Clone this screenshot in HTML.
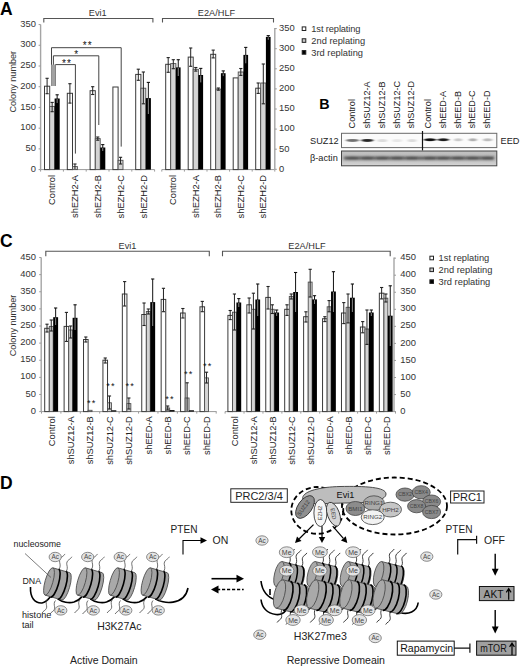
<!DOCTYPE html>
<html><head><meta charset="utf-8"><style>
html,body{margin:0;padding:0;background:#fff;}
svg{display:block;font-family:"Liberation Sans", sans-serif;}
</style></head><body>
<svg width="520" height="668" viewBox="0 0 520 668">
<rect width="520" height="668" fill="#fff"/>
<text x="0.00" y="15.30" font-size="17.5" text-anchor="start" font-weight="bold" fill="#000">A</text>
<line x1="40.60" y1="24.50" x2="40.60" y2="169.60" stroke="#a5a5a5" stroke-width="1.4"/>
<line x1="38.60" y1="169.60" x2="40.60" y2="169.60" stroke="#9a9a9a" stroke-width="1"/>
<text x="36.00" y="171.70" font-size="9.4" text-anchor="end" font-weight="normal" fill="#333">0</text>
<line x1="38.60" y1="148.88" x2="40.60" y2="148.88" stroke="#9a9a9a" stroke-width="1"/>
<text x="36.00" y="150.98" font-size="9.4" text-anchor="end" font-weight="normal" fill="#333">50</text>
<line x1="38.60" y1="128.16" x2="40.60" y2="128.16" stroke="#9a9a9a" stroke-width="1"/>
<text x="36.00" y="130.26" font-size="9.4" text-anchor="end" font-weight="normal" fill="#333">100</text>
<line x1="38.60" y1="107.44" x2="40.60" y2="107.44" stroke="#9a9a9a" stroke-width="1"/>
<text x="36.00" y="109.54" font-size="9.4" text-anchor="end" font-weight="normal" fill="#333">150</text>
<line x1="38.60" y1="86.72" x2="40.60" y2="86.72" stroke="#9a9a9a" stroke-width="1"/>
<text x="36.00" y="88.82" font-size="9.4" text-anchor="end" font-weight="normal" fill="#333">200</text>
<line x1="38.60" y1="66.00" x2="40.60" y2="66.00" stroke="#9a9a9a" stroke-width="1"/>
<text x="36.00" y="68.10" font-size="9.4" text-anchor="end" font-weight="normal" fill="#333">250</text>
<line x1="38.60" y1="45.28" x2="40.60" y2="45.28" stroke="#9a9a9a" stroke-width="1"/>
<text x="36.00" y="47.38" font-size="9.4" text-anchor="end" font-weight="normal" fill="#333">300</text>
<line x1="38.60" y1="24.56" x2="40.60" y2="24.56" stroke="#9a9a9a" stroke-width="1"/>
<text x="36.00" y="26.66" font-size="9.4" text-anchor="end" font-weight="normal" fill="#333">350</text>
<text x="15.60" y="81.70" font-size="9.1" text-anchor="middle" font-weight="normal" fill="#333" transform="rotate(-90 15.6 81.7)">Colony number</text>
<line x1="274.80" y1="28.00" x2="274.80" y2="169.30" stroke="#a5a5a5" stroke-width="1.4"/>
<line x1="274.80" y1="169.30" x2="276.80" y2="169.30" stroke="#9a9a9a" stroke-width="1"/>
<text x="279.00" y="171.60" font-size="9.4" text-anchor="start" font-weight="normal" fill="#333">0</text>
<line x1="274.80" y1="149.20" x2="276.80" y2="149.20" stroke="#9a9a9a" stroke-width="1"/>
<text x="279.00" y="151.50" font-size="9.4" text-anchor="start" font-weight="normal" fill="#333">50</text>
<line x1="274.80" y1="129.10" x2="276.80" y2="129.10" stroke="#9a9a9a" stroke-width="1"/>
<text x="279.00" y="131.40" font-size="9.4" text-anchor="start" font-weight="normal" fill="#333">100</text>
<line x1="274.80" y1="109.00" x2="276.80" y2="109.00" stroke="#9a9a9a" stroke-width="1"/>
<text x="279.00" y="111.30" font-size="9.4" text-anchor="start" font-weight="normal" fill="#333">150</text>
<line x1="274.80" y1="88.90" x2="276.80" y2="88.90" stroke="#9a9a9a" stroke-width="1"/>
<text x="279.00" y="91.20" font-size="9.4" text-anchor="start" font-weight="normal" fill="#333">200</text>
<line x1="274.80" y1="68.80" x2="276.80" y2="68.80" stroke="#9a9a9a" stroke-width="1"/>
<text x="279.00" y="71.10" font-size="9.4" text-anchor="start" font-weight="normal" fill="#333">250</text>
<line x1="274.80" y1="48.70" x2="276.80" y2="48.70" stroke="#9a9a9a" stroke-width="1"/>
<text x="279.00" y="51.00" font-size="9.4" text-anchor="start" font-weight="normal" fill="#333">300</text>
<line x1="274.80" y1="28.60" x2="276.80" y2="28.60" stroke="#9a9a9a" stroke-width="1"/>
<text x="279.00" y="30.90" font-size="9.4" text-anchor="start" font-weight="normal" fill="#333">350</text>
<line x1="40.60" y1="169.60" x2="154.60" y2="169.60" stroke="#9a9a9a" stroke-width="1"/>
<line x1="161.80" y1="169.60" x2="274.80" y2="169.60" stroke="#9a9a9a" stroke-width="1"/>
<line x1="40.60" y1="169.60" x2="40.60" y2="171.60" stroke="#9a9a9a" stroke-width="1"/>
<line x1="161.80" y1="169.60" x2="161.80" y2="171.60" stroke="#9a9a9a" stroke-width="1"/>
<line x1="63.40" y1="169.60" x2="63.40" y2="171.60" stroke="#9a9a9a" stroke-width="1"/>
<line x1="184.40" y1="169.60" x2="184.40" y2="171.60" stroke="#9a9a9a" stroke-width="1"/>
<line x1="86.20" y1="169.60" x2="86.20" y2="171.60" stroke="#9a9a9a" stroke-width="1"/>
<line x1="207.00" y1="169.60" x2="207.00" y2="171.60" stroke="#9a9a9a" stroke-width="1"/>
<line x1="109.00" y1="169.60" x2="109.00" y2="171.60" stroke="#9a9a9a" stroke-width="1"/>
<line x1="229.60" y1="169.60" x2="229.60" y2="171.60" stroke="#9a9a9a" stroke-width="1"/>
<line x1="131.80" y1="169.60" x2="131.80" y2="171.60" stroke="#9a9a9a" stroke-width="1"/>
<line x1="252.20" y1="169.60" x2="252.20" y2="171.60" stroke="#9a9a9a" stroke-width="1"/>
<line x1="154.60" y1="169.60" x2="154.60" y2="171.60" stroke="#9a9a9a" stroke-width="1"/>
<line x1="274.80" y1="169.60" x2="274.80" y2="171.60" stroke="#9a9a9a" stroke-width="1"/>
<path d="M43.8 22.5 V18.5 H152.9 V22.5" fill="none" stroke="#555" stroke-width="1.1"/>
<text x="97.70" y="16.00" font-size="9.2" text-anchor="middle" font-weight="normal" fill="#333">Evi1</text>
<path d="M162.5 22.5 V18.5 H273.5 V22.5" fill="none" stroke="#555" stroke-width="1.1"/>
<text x="216.50" y="16.00" font-size="9.2" text-anchor="middle" font-weight="normal" fill="#333">E2A/HLF</text>
<rect x="44.50" y="86.20" width="5.20" height="83.40" fill="#fff" stroke="#3a3a3a" stroke-width="1"/>
<rect x="49.70" y="106.40" width="4.90" height="63.20" fill="#d4d4d4" stroke="#505050" stroke-width="0.9"/>
<rect x="54.60" y="98.50" width="5.10" height="71.10" fill="#000" stroke="none" stroke-width="1"/>
<line x1="47.10" y1="78.30" x2="47.10" y2="93.70" stroke="#222" stroke-width="1"/>
<line x1="45.50" y1="78.30" x2="48.70" y2="78.30" stroke="#222" stroke-width="1.1"/>
<line x1="45.50" y1="93.70" x2="48.70" y2="93.70" stroke="#222" stroke-width="1.1"/>
<line x1="52.15" y1="102.40" x2="52.15" y2="111.70" stroke="#222" stroke-width="1"/>
<line x1="50.55" y1="102.40" x2="53.75" y2="102.40" stroke="#222" stroke-width="1.1"/>
<line x1="50.55" y1="111.70" x2="53.75" y2="111.70" stroke="#222" stroke-width="1.1"/>
<line x1="57.15" y1="94.80" x2="57.15" y2="99.00" stroke="#111" stroke-width="1"/>
<line x1="57.15" y1="99.00" x2="57.15" y2="103.00" stroke="#8a8a8a" stroke-width="1"/>
<line x1="55.55" y1="94.80" x2="58.75" y2="94.80" stroke="#111" stroke-width="1.1"/>
<rect x="67.30" y="93.30" width="5.20" height="76.30" fill="#fff" stroke="#3a3a3a" stroke-width="1"/>
<rect x="72.50" y="166.60" width="4.90" height="3.00" fill="#d4d4d4" stroke="#505050" stroke-width="0.9"/>
<line x1="69.90" y1="83.70" x2="69.90" y2="103.10" stroke="#222" stroke-width="1"/>
<line x1="68.30" y1="83.70" x2="71.50" y2="83.70" stroke="#222" stroke-width="1.1"/>
<line x1="68.30" y1="103.10" x2="71.50" y2="103.10" stroke="#222" stroke-width="1.1"/>
<line x1="74.95" y1="164.00" x2="74.95" y2="169.00" stroke="#222" stroke-width="1"/>
<line x1="73.35" y1="164.00" x2="76.55" y2="164.00" stroke="#222" stroke-width="1.1"/>
<rect x="90.10" y="90.70" width="5.20" height="78.90" fill="#fff" stroke="#3a3a3a" stroke-width="1"/>
<rect x="95.30" y="138.60" width="4.90" height="31.00" fill="#d4d4d4" stroke="#505050" stroke-width="0.9"/>
<rect x="100.20" y="147.50" width="5.10" height="22.10" fill="#000" stroke="none" stroke-width="1"/>
<line x1="92.70" y1="86.70" x2="92.70" y2="94.50" stroke="#222" stroke-width="1"/>
<line x1="91.10" y1="86.70" x2="94.30" y2="86.70" stroke="#222" stroke-width="1.1"/>
<line x1="91.10" y1="94.50" x2="94.30" y2="94.50" stroke="#222" stroke-width="1.1"/>
<line x1="97.75" y1="137.00" x2="97.75" y2="140.20" stroke="#222" stroke-width="1"/>
<line x1="96.15" y1="137.00" x2="99.35" y2="137.00" stroke="#222" stroke-width="1.1"/>
<line x1="96.15" y1="140.20" x2="99.35" y2="140.20" stroke="#222" stroke-width="1.1"/>
<line x1="102.75" y1="144.60" x2="102.75" y2="148.00" stroke="#111" stroke-width="1"/>
<line x1="102.75" y1="148.00" x2="102.75" y2="151.00" stroke="#8a8a8a" stroke-width="1"/>
<line x1="101.15" y1="144.60" x2="104.35" y2="144.60" stroke="#111" stroke-width="1.1"/>
<rect x="112.90" y="87.00" width="5.20" height="82.60" fill="#fff" stroke="#3a3a3a" stroke-width="1"/>
<rect x="118.10" y="160.30" width="4.90" height="9.30" fill="#d4d4d4" stroke="#505050" stroke-width="0.9"/>
<line x1="120.55" y1="157.30" x2="120.55" y2="164.00" stroke="#222" stroke-width="1"/>
<line x1="118.95" y1="157.30" x2="122.15" y2="157.30" stroke="#222" stroke-width="1.1"/>
<line x1="118.95" y1="164.00" x2="122.15" y2="164.00" stroke="#222" stroke-width="1.1"/>
<rect x="135.70" y="74.40" width="5.20" height="95.20" fill="#fff" stroke="#3a3a3a" stroke-width="1"/>
<rect x="140.90" y="88.20" width="4.90" height="81.40" fill="#d4d4d4" stroke="#505050" stroke-width="0.9"/>
<rect x="145.80" y="98.10" width="5.10" height="71.50" fill="#000" stroke="none" stroke-width="1"/>
<line x1="138.30" y1="69.20" x2="138.30" y2="80.30" stroke="#222" stroke-width="1"/>
<line x1="136.70" y1="69.20" x2="139.90" y2="69.20" stroke="#222" stroke-width="1.1"/>
<line x1="136.70" y1="80.30" x2="139.90" y2="80.30" stroke="#222" stroke-width="1.1"/>
<line x1="143.35" y1="72.00" x2="143.35" y2="103.80" stroke="#222" stroke-width="1"/>
<line x1="141.75" y1="72.00" x2="144.95" y2="72.00" stroke="#222" stroke-width="1.1"/>
<line x1="141.75" y1="103.80" x2="144.95" y2="103.80" stroke="#222" stroke-width="1.1"/>
<line x1="148.35" y1="82.40" x2="148.35" y2="98.60" stroke="#111" stroke-width="1"/>
<line x1="148.35" y1="98.60" x2="148.35" y2="114.00" stroke="#8a8a8a" stroke-width="1"/>
<line x1="146.75" y1="82.40" x2="149.95" y2="82.40" stroke="#111" stroke-width="1.1"/>
<rect x="165.70" y="64.30" width="5.00" height="105.30" fill="#fff" stroke="#3a3a3a" stroke-width="1"/>
<rect x="170.70" y="63.60" width="5.20" height="106.00" fill="#d4d4d4" stroke="#505050" stroke-width="0.9"/>
<rect x="175.90" y="67.40" width="4.70" height="102.20" fill="#000" stroke="none" stroke-width="1"/>
<line x1="168.20" y1="57.60" x2="168.20" y2="72.30" stroke="#222" stroke-width="1"/>
<line x1="166.60" y1="57.60" x2="169.80" y2="57.60" stroke="#222" stroke-width="1.1"/>
<line x1="166.60" y1="72.30" x2="169.80" y2="72.30" stroke="#222" stroke-width="1.1"/>
<line x1="173.30" y1="59.70" x2="173.30" y2="68.70" stroke="#222" stroke-width="1"/>
<line x1="171.70" y1="59.70" x2="174.90" y2="59.70" stroke="#222" stroke-width="1.1"/>
<line x1="171.70" y1="68.70" x2="174.90" y2="68.70" stroke="#222" stroke-width="1.1"/>
<line x1="178.25" y1="59.70" x2="178.25" y2="67.90" stroke="#111" stroke-width="1"/>
<line x1="178.25" y1="67.90" x2="178.25" y2="76.00" stroke="#8a8a8a" stroke-width="1"/>
<line x1="176.65" y1="59.70" x2="179.85" y2="59.70" stroke="#111" stroke-width="1.1"/>
<rect x="188.20" y="57.10" width="5.00" height="112.50" fill="#fff" stroke="#3a3a3a" stroke-width="1"/>
<rect x="193.20" y="69.30" width="5.20" height="100.30" fill="#d4d4d4" stroke="#505050" stroke-width="0.9"/>
<rect x="198.40" y="75.00" width="4.70" height="94.60" fill="#000" stroke="none" stroke-width="1"/>
<line x1="190.70" y1="48.00" x2="190.70" y2="66.30" stroke="#222" stroke-width="1"/>
<line x1="189.10" y1="48.00" x2="192.30" y2="48.00" stroke="#222" stroke-width="1.1"/>
<line x1="189.10" y1="66.30" x2="192.30" y2="66.30" stroke="#222" stroke-width="1.1"/>
<line x1="195.80" y1="67.50" x2="195.80" y2="71.10" stroke="#222" stroke-width="1"/>
<line x1="194.20" y1="67.50" x2="197.40" y2="67.50" stroke="#222" stroke-width="1.1"/>
<line x1="194.20" y1="71.10" x2="197.40" y2="71.10" stroke="#222" stroke-width="1.1"/>
<line x1="200.75" y1="68.40" x2="200.75" y2="75.50" stroke="#111" stroke-width="1"/>
<line x1="200.75" y1="75.50" x2="200.75" y2="82.40" stroke="#8a8a8a" stroke-width="1"/>
<line x1="199.15" y1="68.40" x2="202.35" y2="68.40" stroke="#111" stroke-width="1.1"/>
<rect x="210.70" y="54.30" width="5.00" height="115.30" fill="#fff" stroke="#3a3a3a" stroke-width="1"/>
<rect x="215.70" y="89.10" width="5.20" height="80.50" fill="#d4d4d4" stroke="#505050" stroke-width="0.9"/>
<rect x="220.90" y="73.20" width="4.70" height="96.40" fill="#000" stroke="none" stroke-width="1"/>
<line x1="213.20" y1="50.10" x2="213.20" y2="57.90" stroke="#222" stroke-width="1"/>
<line x1="211.60" y1="50.10" x2="214.80" y2="50.10" stroke="#222" stroke-width="1.1"/>
<line x1="211.60" y1="57.90" x2="214.80" y2="57.90" stroke="#222" stroke-width="1.1"/>
<line x1="218.30" y1="88.00" x2="218.30" y2="90.20" stroke="#222" stroke-width="1"/>
<line x1="216.70" y1="88.00" x2="219.90" y2="88.00" stroke="#222" stroke-width="1.1"/>
<line x1="216.70" y1="90.20" x2="219.90" y2="90.20" stroke="#222" stroke-width="1.1"/>
<line x1="223.25" y1="70.90" x2="223.25" y2="73.70" stroke="#111" stroke-width="1"/>
<line x1="223.25" y1="73.70" x2="223.25" y2="76.10" stroke="#8a8a8a" stroke-width="1"/>
<line x1="221.65" y1="70.90" x2="224.85" y2="70.90" stroke="#111" stroke-width="1.1"/>
<rect x="233.20" y="77.90" width="5.00" height="91.70" fill="#fff" stroke="#3a3a3a" stroke-width="1"/>
<rect x="238.20" y="72.00" width="5.20" height="97.60" fill="#d4d4d4" stroke="#505050" stroke-width="0.9"/>
<rect x="243.40" y="54.90" width="4.70" height="114.70" fill="#000" stroke="none" stroke-width="1"/>
<line x1="240.80" y1="68.50" x2="240.80" y2="75.40" stroke="#222" stroke-width="1"/>
<line x1="239.20" y1="68.50" x2="242.40" y2="68.50" stroke="#222" stroke-width="1.1"/>
<line x1="239.20" y1="75.40" x2="242.40" y2="75.40" stroke="#222" stroke-width="1.1"/>
<line x1="245.75" y1="47.40" x2="245.75" y2="55.40" stroke="#111" stroke-width="1"/>
<line x1="245.75" y1="55.40" x2="245.75" y2="63.30" stroke="#8a8a8a" stroke-width="1"/>
<line x1="244.15" y1="47.40" x2="247.35" y2="47.40" stroke="#111" stroke-width="1.1"/>
<rect x="255.70" y="88.20" width="5.00" height="81.40" fill="#fff" stroke="#3a3a3a" stroke-width="1"/>
<rect x="260.70" y="83.00" width="5.20" height="86.60" fill="#d4d4d4" stroke="#505050" stroke-width="0.9"/>
<rect x="265.90" y="36.90" width="4.70" height="132.70" fill="#000" stroke="none" stroke-width="1"/>
<line x1="258.20" y1="83.00" x2="258.20" y2="93.40" stroke="#222" stroke-width="1"/>
<line x1="256.60" y1="83.00" x2="259.80" y2="83.00" stroke="#222" stroke-width="1.1"/>
<line x1="256.60" y1="93.40" x2="259.80" y2="93.40" stroke="#222" stroke-width="1.1"/>
<line x1="263.30" y1="64.00" x2="263.30" y2="103.80" stroke="#222" stroke-width="1"/>
<line x1="261.70" y1="64.00" x2="264.90" y2="64.00" stroke="#222" stroke-width="1.1"/>
<line x1="261.70" y1="103.80" x2="264.90" y2="103.80" stroke="#222" stroke-width="1.1"/>
<line x1="268.25" y1="35.60" x2="268.25" y2="37.40" stroke="#111" stroke-width="1"/>
<line x1="268.25" y1="37.40" x2="268.25" y2="39.80" stroke="#8a8a8a" stroke-width="1"/>
<line x1="266.65" y1="35.60" x2="269.85" y2="35.60" stroke="#111" stroke-width="1.1"/>
<path d="M51.5 86 V47.7 H121.2 V146.6" fill="none" stroke="#444" stroke-width="1"/>
<path d="M53.4 86 V55.8 H98.8 V125" fill="none" stroke="#444" stroke-width="1"/>
<path d="M55.4 86 V64.6 H75.4 V153.6" fill="none" stroke="#444" stroke-width="1"/>
<rect x="51.20" y="64.60" width="4.40" height="21.40" fill="#a2a2a2" stroke="none" stroke-width="1"/>
<text x="87.80" y="49.20" font-size="10" text-anchor="middle" font-weight="normal" fill="#111" letter-spacing="1.2">**</text>
<text x="76.20" y="57.80" font-size="10" text-anchor="middle" font-weight="normal" fill="#111">*</text>
<text x="67.00" y="67.00" font-size="10" text-anchor="middle" font-weight="normal" fill="#111" letter-spacing="1.2">**</text>
<text x="55.40" y="175.00" font-size="9.3" text-anchor="end" font-weight="normal" fill="#222" transform="rotate(-90 55.4 175)">Control</text>
<text x="78.20" y="175.00" font-size="9.3" text-anchor="end" font-weight="normal" fill="#222" transform="rotate(-90 78.20000000000002 175)">shEZH2-A</text>
<text x="101.00" y="175.00" font-size="9.3" text-anchor="end" font-weight="normal" fill="#222" transform="rotate(-90 101.00000000000001 175)">shEZH2-B</text>
<text x="123.80" y="175.00" font-size="9.3" text-anchor="end" font-weight="normal" fill="#222" transform="rotate(-90 123.80000000000001 175)">shEZH2-C</text>
<text x="146.60" y="175.00" font-size="9.3" text-anchor="end" font-weight="normal" fill="#222" transform="rotate(-90 146.60000000000002 175)">shEZH2-D</text>
<text x="176.15" y="175.00" font-size="9.3" text-anchor="end" font-weight="normal" fill="#222" transform="rotate(-90 176.15 175)">Control</text>
<text x="198.65" y="175.00" font-size="9.3" text-anchor="end" font-weight="normal" fill="#222" transform="rotate(-90 198.65 175)">shEZH2-A</text>
<text x="221.15" y="175.00" font-size="9.3" text-anchor="end" font-weight="normal" fill="#222" transform="rotate(-90 221.15 175)">shEZH2-B</text>
<text x="243.65" y="175.00" font-size="9.3" text-anchor="end" font-weight="normal" fill="#222" transform="rotate(-90 243.65 175)">shEZH2-C</text>
<text x="266.15" y="175.00" font-size="9.3" text-anchor="end" font-weight="normal" fill="#222" transform="rotate(-90 266.15 175)">shEZH2-D</text>
<rect x="302.20" y="26.90" width="3.60" height="3.60" fill="#fff" stroke="#222" stroke-width="1"/>
<text x="311.30" y="31.90" font-size="9.3" text-anchor="start" font-weight="normal" fill="#333" letter-spacing="-0.12">1st replating</text>
<rect x="302.20" y="38.75" width="3.60" height="3.60" fill="#c8c8c8" stroke="#222" stroke-width="1"/>
<text x="311.30" y="43.75" font-size="9.3" text-anchor="start" font-weight="normal" fill="#333">2nd replating</text>
<rect x="302.20" y="50.60" width="3.60" height="3.60" fill="#000" stroke="#222" stroke-width="1"/>
<text x="311.30" y="55.60" font-size="9.3" text-anchor="start" font-weight="normal" fill="#333">3rd replating</text>
<text x="0.00" y="247.20" font-size="17.5" text-anchor="start" font-weight="bold" fill="#000">C</text>
<line x1="41.20" y1="257.50" x2="41.20" y2="411.60" stroke="#a5a5a5" stroke-width="1.4"/>
<line x1="39.20" y1="411.60" x2="41.20" y2="411.60" stroke="#9a9a9a" stroke-width="1"/>
<text x="36.00" y="413.70" font-size="9.4" text-anchor="end" font-weight="normal" fill="#333">0</text>
<line x1="39.20" y1="394.48" x2="41.20" y2="394.48" stroke="#9a9a9a" stroke-width="1"/>
<text x="36.00" y="396.58" font-size="9.4" text-anchor="end" font-weight="normal" fill="#333">50</text>
<line x1="39.20" y1="377.36" x2="41.20" y2="377.36" stroke="#9a9a9a" stroke-width="1"/>
<text x="36.00" y="379.46" font-size="9.4" text-anchor="end" font-weight="normal" fill="#333">100</text>
<line x1="39.20" y1="360.24" x2="41.20" y2="360.24" stroke="#9a9a9a" stroke-width="1"/>
<text x="36.00" y="362.34" font-size="9.4" text-anchor="end" font-weight="normal" fill="#333">150</text>
<line x1="39.20" y1="343.12" x2="41.20" y2="343.12" stroke="#9a9a9a" stroke-width="1"/>
<text x="36.00" y="345.22" font-size="9.4" text-anchor="end" font-weight="normal" fill="#333">200</text>
<line x1="39.20" y1="326.00" x2="41.20" y2="326.00" stroke="#9a9a9a" stroke-width="1"/>
<text x="36.00" y="328.10" font-size="9.4" text-anchor="end" font-weight="normal" fill="#333">250</text>
<line x1="39.20" y1="308.88" x2="41.20" y2="308.88" stroke="#9a9a9a" stroke-width="1"/>
<text x="36.00" y="310.98" font-size="9.4" text-anchor="end" font-weight="normal" fill="#333">300</text>
<line x1="39.20" y1="291.76" x2="41.20" y2="291.76" stroke="#9a9a9a" stroke-width="1"/>
<text x="36.00" y="293.86" font-size="9.4" text-anchor="end" font-weight="normal" fill="#333">350</text>
<line x1="39.20" y1="274.64" x2="41.20" y2="274.64" stroke="#9a9a9a" stroke-width="1"/>
<text x="36.00" y="276.74" font-size="9.4" text-anchor="end" font-weight="normal" fill="#333">400</text>
<line x1="39.20" y1="257.52" x2="41.20" y2="257.52" stroke="#9a9a9a" stroke-width="1"/>
<text x="36.00" y="259.62" font-size="9.4" text-anchor="end" font-weight="normal" fill="#333">450</text>
<text x="16.20" y="325.50" font-size="9.1" text-anchor="middle" font-weight="normal" fill="#333" transform="rotate(-90 16.2 325.5)">Colony number</text>
<line x1="394.00" y1="257.50" x2="394.00" y2="411.60" stroke="#a5a5a5" stroke-width="1.4"/>
<line x1="394.00" y1="411.60" x2="396.00" y2="411.60" stroke="#9a9a9a" stroke-width="1"/>
<text x="400.30" y="413.70" font-size="9.4" text-anchor="start" font-weight="normal" fill="#333">0</text>
<line x1="394.00" y1="394.55" x2="396.00" y2="394.55" stroke="#9a9a9a" stroke-width="1"/>
<text x="400.30" y="396.65" font-size="9.4" text-anchor="start" font-weight="normal" fill="#333">50</text>
<line x1="394.00" y1="377.50" x2="396.00" y2="377.50" stroke="#9a9a9a" stroke-width="1"/>
<text x="400.30" y="379.60" font-size="9.4" text-anchor="start" font-weight="normal" fill="#333">100</text>
<line x1="394.00" y1="360.45" x2="396.00" y2="360.45" stroke="#9a9a9a" stroke-width="1"/>
<text x="400.30" y="362.55" font-size="9.4" text-anchor="start" font-weight="normal" fill="#333">150</text>
<line x1="394.00" y1="343.40" x2="396.00" y2="343.40" stroke="#9a9a9a" stroke-width="1"/>
<text x="400.30" y="345.50" font-size="9.4" text-anchor="start" font-weight="normal" fill="#333">200</text>
<line x1="394.00" y1="326.35" x2="396.00" y2="326.35" stroke="#9a9a9a" stroke-width="1"/>
<text x="400.30" y="328.45" font-size="9.4" text-anchor="start" font-weight="normal" fill="#333">250</text>
<line x1="394.00" y1="309.30" x2="396.00" y2="309.30" stroke="#9a9a9a" stroke-width="1"/>
<text x="400.30" y="311.40" font-size="9.4" text-anchor="start" font-weight="normal" fill="#333">300</text>
<line x1="394.00" y1="292.25" x2="396.00" y2="292.25" stroke="#9a9a9a" stroke-width="1"/>
<text x="400.30" y="294.35" font-size="9.4" text-anchor="start" font-weight="normal" fill="#333">350</text>
<line x1="394.00" y1="275.20" x2="396.00" y2="275.20" stroke="#9a9a9a" stroke-width="1"/>
<text x="400.30" y="277.30" font-size="9.4" text-anchor="start" font-weight="normal" fill="#333">400</text>
<line x1="394.00" y1="258.15" x2="396.00" y2="258.15" stroke="#9a9a9a" stroke-width="1"/>
<text x="400.30" y="260.25" font-size="9.4" text-anchor="start" font-weight="normal" fill="#333">450</text>
<line x1="41.20" y1="411.60" x2="216.60" y2="411.60" stroke="#9a9a9a" stroke-width="1"/>
<line x1="225.00" y1="411.60" x2="394.00" y2="411.60" stroke="#9a9a9a" stroke-width="1"/>
<line x1="41.50" y1="411.60" x2="41.50" y2="413.60" stroke="#9a9a9a" stroke-width="1"/>
<line x1="225.10" y1="411.60" x2="225.10" y2="413.60" stroke="#9a9a9a" stroke-width="1"/>
<line x1="60.91" y1="411.60" x2="60.91" y2="413.60" stroke="#9a9a9a" stroke-width="1"/>
<line x1="244.03" y1="411.60" x2="244.03" y2="413.60" stroke="#9a9a9a" stroke-width="1"/>
<line x1="80.32" y1="411.60" x2="80.32" y2="413.60" stroke="#9a9a9a" stroke-width="1"/>
<line x1="262.96" y1="411.60" x2="262.96" y2="413.60" stroke="#9a9a9a" stroke-width="1"/>
<line x1="99.73" y1="411.60" x2="99.73" y2="413.60" stroke="#9a9a9a" stroke-width="1"/>
<line x1="281.89" y1="411.60" x2="281.89" y2="413.60" stroke="#9a9a9a" stroke-width="1"/>
<line x1="119.14" y1="411.60" x2="119.14" y2="413.60" stroke="#9a9a9a" stroke-width="1"/>
<line x1="300.82" y1="411.60" x2="300.82" y2="413.60" stroke="#9a9a9a" stroke-width="1"/>
<line x1="138.55" y1="411.60" x2="138.55" y2="413.60" stroke="#9a9a9a" stroke-width="1"/>
<line x1="319.75" y1="411.60" x2="319.75" y2="413.60" stroke="#9a9a9a" stroke-width="1"/>
<line x1="157.96" y1="411.60" x2="157.96" y2="413.60" stroke="#9a9a9a" stroke-width="1"/>
<line x1="338.68" y1="411.60" x2="338.68" y2="413.60" stroke="#9a9a9a" stroke-width="1"/>
<line x1="177.37" y1="411.60" x2="177.37" y2="413.60" stroke="#9a9a9a" stroke-width="1"/>
<line x1="357.61" y1="411.60" x2="357.61" y2="413.60" stroke="#9a9a9a" stroke-width="1"/>
<line x1="196.78" y1="411.60" x2="196.78" y2="413.60" stroke="#9a9a9a" stroke-width="1"/>
<line x1="376.54" y1="411.60" x2="376.54" y2="413.60" stroke="#9a9a9a" stroke-width="1"/>
<line x1="216.19" y1="411.60" x2="216.19" y2="413.60" stroke="#9a9a9a" stroke-width="1"/>
<line x1="395.47" y1="411.60" x2="395.47" y2="413.60" stroke="#9a9a9a" stroke-width="1"/>
<path d="M45.8 256.3 V251.3 H209.3 V256.3" fill="none" stroke="#555" stroke-width="1.1"/>
<text x="127.50" y="248.80" font-size="9.2" text-anchor="middle" font-weight="normal" fill="#333">Evi1</text>
<path d="M222.5 256.3 V251.3 H390.2 V256.3" fill="none" stroke="#555" stroke-width="1.1"/>
<text x="307.00" y="248.80" font-size="9.2" text-anchor="middle" font-weight="normal" fill="#333">E2A/HLF</text>
<rect x="44.70" y="328.30" width="4.60" height="83.30" fill="#fff" stroke="#3a3a3a" stroke-width="1"/>
<rect x="49.30" y="326.40" width="3.90" height="85.20" fill="#d4d4d4" stroke="#505050" stroke-width="0.9"/>
<rect x="53.20" y="317.20" width="4.90" height="94.40" fill="#000" stroke="none" stroke-width="1"/>
<line x1="47.00" y1="324.20" x2="47.00" y2="332.00" stroke="#222" stroke-width="1"/>
<line x1="45.40" y1="324.20" x2="48.60" y2="324.20" stroke="#222" stroke-width="1.1"/>
<line x1="45.40" y1="332.00" x2="48.60" y2="332.00" stroke="#222" stroke-width="1.1"/>
<line x1="51.25" y1="320.00" x2="51.25" y2="331.00" stroke="#222" stroke-width="1"/>
<line x1="49.65" y1="320.00" x2="52.85" y2="320.00" stroke="#222" stroke-width="1.1"/>
<line x1="49.65" y1="331.00" x2="52.85" y2="331.00" stroke="#222" stroke-width="1.1"/>
<line x1="55.65" y1="308.00" x2="55.65" y2="317.70" stroke="#111" stroke-width="1"/>
<line x1="55.65" y1="317.70" x2="55.65" y2="325.00" stroke="#8a8a8a" stroke-width="1"/>
<line x1="54.05" y1="308.00" x2="57.25" y2="308.00" stroke="#111" stroke-width="1.1"/>
<rect x="64.11" y="326.40" width="4.60" height="85.20" fill="#fff" stroke="#3a3a3a" stroke-width="1"/>
<rect x="68.71" y="330.00" width="3.90" height="81.60" fill="#d4d4d4" stroke="#505050" stroke-width="0.9"/>
<rect x="72.61" y="317.80" width="4.90" height="93.80" fill="#000" stroke="none" stroke-width="1"/>
<line x1="66.41" y1="312.40" x2="66.41" y2="341.40" stroke="#222" stroke-width="1"/>
<line x1="64.81" y1="312.40" x2="68.01" y2="312.40" stroke="#222" stroke-width="1.1"/>
<line x1="64.81" y1="341.40" x2="68.01" y2="341.40" stroke="#222" stroke-width="1.1"/>
<line x1="70.66" y1="326.00" x2="70.66" y2="338.00" stroke="#222" stroke-width="1"/>
<line x1="69.06" y1="326.00" x2="72.26" y2="326.00" stroke="#222" stroke-width="1.1"/>
<line x1="69.06" y1="338.00" x2="72.26" y2="338.00" stroke="#222" stroke-width="1.1"/>
<line x1="75.06" y1="304.80" x2="75.06" y2="318.30" stroke="#111" stroke-width="1"/>
<line x1="75.06" y1="318.30" x2="75.06" y2="330.00" stroke="#8a8a8a" stroke-width="1"/>
<line x1="73.46" y1="304.80" x2="76.66" y2="304.80" stroke="#111" stroke-width="1.1"/>
<rect x="83.52" y="339.50" width="4.60" height="72.10" fill="#fff" stroke="#3a3a3a" stroke-width="1"/>
<rect x="88.12" y="410.30" width="3.90" height="1.30" fill="#d4d4d4" stroke="#505050" stroke-width="0.9"/>
<line x1="85.82" y1="337.00" x2="85.82" y2="342.00" stroke="#222" stroke-width="1"/>
<line x1="84.22" y1="337.00" x2="87.42" y2="337.00" stroke="#222" stroke-width="1.1"/>
<line x1="84.22" y1="342.00" x2="87.42" y2="342.00" stroke="#222" stroke-width="1.1"/>
<rect x="102.93" y="360.20" width="4.60" height="51.40" fill="#fff" stroke="#3a3a3a" stroke-width="1"/>
<rect x="107.53" y="402.80" width="3.90" height="8.80" fill="#d4d4d4" stroke="#505050" stroke-width="0.9"/>
<rect x="111.43" y="410.30" width="4.90" height="1.30" fill="#000" stroke="none" stroke-width="1"/>
<line x1="105.23" y1="358.00" x2="105.23" y2="363.00" stroke="#222" stroke-width="1"/>
<line x1="103.63" y1="358.00" x2="106.83" y2="358.00" stroke="#222" stroke-width="1.1"/>
<line x1="103.63" y1="363.00" x2="106.83" y2="363.00" stroke="#222" stroke-width="1.1"/>
<line x1="109.48" y1="396.00" x2="109.48" y2="409.00" stroke="#222" stroke-width="1"/>
<line x1="107.88" y1="396.00" x2="111.08" y2="396.00" stroke="#222" stroke-width="1.1"/>
<line x1="107.88" y1="409.00" x2="111.08" y2="409.00" stroke="#222" stroke-width="1.1"/>
<rect x="122.34" y="294.00" width="4.60" height="117.60" fill="#fff" stroke="#3a3a3a" stroke-width="1"/>
<rect x="126.94" y="403.60" width="3.90" height="8.00" fill="#d4d4d4" stroke="#505050" stroke-width="0.9"/>
<line x1="124.64" y1="281.60" x2="124.64" y2="306.00" stroke="#222" stroke-width="1"/>
<line x1="123.04" y1="281.60" x2="126.24" y2="281.60" stroke="#222" stroke-width="1.1"/>
<line x1="123.04" y1="306.00" x2="126.24" y2="306.00" stroke="#222" stroke-width="1.1"/>
<line x1="128.89" y1="398.00" x2="128.89" y2="409.00" stroke="#222" stroke-width="1"/>
<line x1="127.29" y1="398.00" x2="130.49" y2="398.00" stroke="#222" stroke-width="1.1"/>
<line x1="127.29" y1="409.00" x2="130.49" y2="409.00" stroke="#222" stroke-width="1.1"/>
<rect x="141.75" y="314.50" width="4.60" height="97.10" fill="#fff" stroke="#3a3a3a" stroke-width="1"/>
<rect x="146.35" y="311.50" width="3.90" height="100.10" fill="#d4d4d4" stroke="#505050" stroke-width="0.9"/>
<rect x="150.25" y="302.10" width="4.90" height="109.50" fill="#000" stroke="none" stroke-width="1"/>
<line x1="144.05" y1="303.00" x2="144.05" y2="325.50" stroke="#222" stroke-width="1"/>
<line x1="142.45" y1="303.00" x2="145.65" y2="303.00" stroke="#222" stroke-width="1.1"/>
<line x1="142.45" y1="325.50" x2="145.65" y2="325.50" stroke="#222" stroke-width="1.1"/>
<line x1="148.30" y1="309.00" x2="148.30" y2="314.00" stroke="#222" stroke-width="1"/>
<line x1="146.70" y1="309.00" x2="149.90" y2="309.00" stroke="#222" stroke-width="1.1"/>
<line x1="146.70" y1="314.00" x2="149.90" y2="314.00" stroke="#222" stroke-width="1.1"/>
<line x1="152.70" y1="279.00" x2="152.70" y2="302.60" stroke="#111" stroke-width="1"/>
<line x1="152.70" y1="302.60" x2="152.70" y2="326.00" stroke="#8a8a8a" stroke-width="1"/>
<line x1="151.10" y1="279.00" x2="154.30" y2="279.00" stroke="#111" stroke-width="1.1"/>
<rect x="161.16" y="299.40" width="4.60" height="112.20" fill="#fff" stroke="#3a3a3a" stroke-width="1"/>
<rect x="165.76" y="408.00" width="3.90" height="3.60" fill="#d4d4d4" stroke="#505050" stroke-width="0.9"/>
<rect x="169.66" y="410.10" width="4.90" height="1.50" fill="#000" stroke="none" stroke-width="1"/>
<line x1="163.46" y1="288.30" x2="163.46" y2="311.70" stroke="#222" stroke-width="1"/>
<line x1="161.86" y1="288.30" x2="165.06" y2="288.30" stroke="#222" stroke-width="1.1"/>
<line x1="161.86" y1="311.70" x2="165.06" y2="311.70" stroke="#222" stroke-width="1.1"/>
<line x1="167.71" y1="406.00" x2="167.71" y2="410.00" stroke="#222" stroke-width="1"/>
<line x1="166.11" y1="406.00" x2="169.31" y2="406.00" stroke="#222" stroke-width="1.1"/>
<line x1="166.11" y1="410.00" x2="169.31" y2="410.00" stroke="#222" stroke-width="1.1"/>
<rect x="180.57" y="313.00" width="4.60" height="98.60" fill="#fff" stroke="#3a3a3a" stroke-width="1"/>
<rect x="185.17" y="398.00" width="3.90" height="13.60" fill="#d4d4d4" stroke="#505050" stroke-width="0.9"/>
<rect x="189.07" y="410.30" width="4.90" height="1.30" fill="#000" stroke="none" stroke-width="1"/>
<line x1="182.87" y1="308.50" x2="182.87" y2="318.00" stroke="#222" stroke-width="1"/>
<line x1="181.27" y1="308.50" x2="184.47" y2="308.50" stroke="#222" stroke-width="1.1"/>
<line x1="181.27" y1="318.00" x2="184.47" y2="318.00" stroke="#222" stroke-width="1.1"/>
<line x1="187.12" y1="382.80" x2="187.12" y2="411.00" stroke="#222" stroke-width="1"/>
<line x1="185.52" y1="382.80" x2="188.72" y2="382.80" stroke="#222" stroke-width="1.1"/>
<rect x="199.98" y="306.80" width="4.60" height="104.80" fill="#fff" stroke="#3a3a3a" stroke-width="1"/>
<rect x="204.58" y="377.90" width="3.90" height="33.70" fill="#d4d4d4" stroke="#505050" stroke-width="0.9"/>
<line x1="202.28" y1="301.40" x2="202.28" y2="311.70" stroke="#222" stroke-width="1"/>
<line x1="200.68" y1="301.40" x2="203.88" y2="301.40" stroke="#222" stroke-width="1.1"/>
<line x1="200.68" y1="311.70" x2="203.88" y2="311.70" stroke="#222" stroke-width="1.1"/>
<line x1="206.53" y1="372.20" x2="206.53" y2="383.00" stroke="#222" stroke-width="1"/>
<line x1="204.93" y1="372.20" x2="208.13" y2="372.20" stroke="#222" stroke-width="1.1"/>
<line x1="204.93" y1="383.00" x2="208.13" y2="383.00" stroke="#222" stroke-width="1.1"/>
<rect x="227.90" y="315.40" width="4.60" height="96.20" fill="#fff" stroke="#3a3a3a" stroke-width="1"/>
<rect x="232.50" y="312.20" width="3.90" height="99.40" fill="#d4d4d4" stroke="#505050" stroke-width="0.9"/>
<rect x="236.40" y="302.50" width="4.80" height="109.10" fill="#000" stroke="none" stroke-width="1"/>
<line x1="230.20" y1="310.50" x2="230.20" y2="319.60" stroke="#222" stroke-width="1"/>
<line x1="228.60" y1="310.50" x2="231.80" y2="310.50" stroke="#222" stroke-width="1.1"/>
<line x1="228.60" y1="319.60" x2="231.80" y2="319.60" stroke="#222" stroke-width="1.1"/>
<line x1="234.45" y1="294.00" x2="234.45" y2="330.00" stroke="#222" stroke-width="1"/>
<line x1="232.85" y1="294.00" x2="236.05" y2="294.00" stroke="#222" stroke-width="1.1"/>
<line x1="232.85" y1="330.00" x2="236.05" y2="330.00" stroke="#222" stroke-width="1.1"/>
<line x1="238.80" y1="298.60" x2="238.80" y2="303.00" stroke="#111" stroke-width="1"/>
<line x1="238.80" y1="303.00" x2="238.80" y2="307.00" stroke="#8a8a8a" stroke-width="1"/>
<line x1="237.20" y1="298.60" x2="240.40" y2="298.60" stroke="#111" stroke-width="1.1"/>
<rect x="246.83" y="304.80" width="4.60" height="106.80" fill="#fff" stroke="#3a3a3a" stroke-width="1"/>
<rect x="251.43" y="309.30" width="3.90" height="102.30" fill="#d4d4d4" stroke="#505050" stroke-width="0.9"/>
<rect x="255.33" y="299.50" width="4.80" height="112.10" fill="#000" stroke="none" stroke-width="1"/>
<line x1="249.13" y1="298.00" x2="249.13" y2="313.00" stroke="#222" stroke-width="1"/>
<line x1="247.53" y1="298.00" x2="250.73" y2="298.00" stroke="#222" stroke-width="1.1"/>
<line x1="247.53" y1="313.00" x2="250.73" y2="313.00" stroke="#222" stroke-width="1.1"/>
<line x1="253.38" y1="293.20" x2="253.38" y2="329.00" stroke="#222" stroke-width="1"/>
<line x1="251.78" y1="293.20" x2="254.98" y2="293.20" stroke="#222" stroke-width="1.1"/>
<line x1="251.78" y1="329.00" x2="254.98" y2="329.00" stroke="#222" stroke-width="1.1"/>
<line x1="257.73" y1="284.00" x2="257.73" y2="300.00" stroke="#111" stroke-width="1"/>
<line x1="257.73" y1="300.00" x2="257.73" y2="316.00" stroke="#8a8a8a" stroke-width="1"/>
<line x1="256.13" y1="284.00" x2="259.33" y2="284.00" stroke="#111" stroke-width="1.1"/>
<rect x="265.76" y="297.40" width="4.60" height="114.20" fill="#fff" stroke="#3a3a3a" stroke-width="1"/>
<rect x="270.36" y="309.30" width="3.90" height="102.30" fill="#d4d4d4" stroke="#505050" stroke-width="0.9"/>
<rect x="274.26" y="312.50" width="4.80" height="99.10" fill="#000" stroke="none" stroke-width="1"/>
<line x1="268.06" y1="286.50" x2="268.06" y2="309.00" stroke="#222" stroke-width="1"/>
<line x1="266.46" y1="286.50" x2="269.66" y2="286.50" stroke="#222" stroke-width="1.1"/>
<line x1="266.46" y1="309.00" x2="269.66" y2="309.00" stroke="#222" stroke-width="1.1"/>
<line x1="272.31" y1="304.80" x2="272.31" y2="313.50" stroke="#222" stroke-width="1"/>
<line x1="270.71" y1="304.80" x2="273.91" y2="304.80" stroke="#222" stroke-width="1.1"/>
<line x1="270.71" y1="313.50" x2="273.91" y2="313.50" stroke="#222" stroke-width="1.1"/>
<line x1="276.66" y1="310.00" x2="276.66" y2="313.00" stroke="#111" stroke-width="1"/>
<line x1="276.66" y1="313.00" x2="276.66" y2="316.00" stroke="#8a8a8a" stroke-width="1"/>
<line x1="275.06" y1="310.00" x2="278.26" y2="310.00" stroke="#111" stroke-width="1.1"/>
<rect x="284.69" y="309.30" width="4.60" height="102.30" fill="#fff" stroke="#3a3a3a" stroke-width="1"/>
<rect x="289.29" y="296.40" width="3.90" height="115.20" fill="#d4d4d4" stroke="#505050" stroke-width="0.9"/>
<rect x="293.19" y="292.00" width="4.80" height="119.60" fill="#000" stroke="none" stroke-width="1"/>
<line x1="286.99" y1="304.80" x2="286.99" y2="315.40" stroke="#222" stroke-width="1"/>
<line x1="285.39" y1="304.80" x2="288.59" y2="304.80" stroke="#222" stroke-width="1.1"/>
<line x1="285.39" y1="315.40" x2="288.59" y2="315.40" stroke="#222" stroke-width="1.1"/>
<line x1="291.24" y1="294.00" x2="291.24" y2="299.00" stroke="#222" stroke-width="1"/>
<line x1="289.64" y1="294.00" x2="292.84" y2="294.00" stroke="#222" stroke-width="1.1"/>
<line x1="289.64" y1="299.00" x2="292.84" y2="299.00" stroke="#222" stroke-width="1.1"/>
<line x1="295.59" y1="272.50" x2="295.59" y2="292.50" stroke="#111" stroke-width="1"/>
<line x1="295.59" y1="292.50" x2="295.59" y2="312.00" stroke="#8a8a8a" stroke-width="1"/>
<line x1="293.99" y1="272.50" x2="297.19" y2="272.50" stroke="#111" stroke-width="1.1"/>
<rect x="303.62" y="316.70" width="4.60" height="94.90" fill="#fff" stroke="#3a3a3a" stroke-width="1"/>
<rect x="308.22" y="282.10" width="3.90" height="129.50" fill="#d4d4d4" stroke="#505050" stroke-width="0.9"/>
<rect x="312.12" y="299.40" width="4.80" height="112.20" fill="#000" stroke="none" stroke-width="1"/>
<line x1="305.92" y1="311.80" x2="305.92" y2="322.00" stroke="#222" stroke-width="1"/>
<line x1="304.32" y1="311.80" x2="307.52" y2="311.80" stroke="#222" stroke-width="1.1"/>
<line x1="304.32" y1="322.00" x2="307.52" y2="322.00" stroke="#222" stroke-width="1.1"/>
<line x1="310.17" y1="269.30" x2="310.17" y2="297.00" stroke="#222" stroke-width="1"/>
<line x1="308.57" y1="269.30" x2="311.77" y2="269.30" stroke="#222" stroke-width="1.1"/>
<line x1="308.57" y1="297.00" x2="311.77" y2="297.00" stroke="#222" stroke-width="1.1"/>
<line x1="314.52" y1="295.70" x2="314.52" y2="299.90" stroke="#111" stroke-width="1"/>
<line x1="314.52" y1="299.90" x2="314.52" y2="304.00" stroke="#8a8a8a" stroke-width="1"/>
<line x1="312.92" y1="295.70" x2="316.12" y2="295.70" stroke="#111" stroke-width="1.1"/>
<rect x="322.55" y="318.70" width="4.60" height="92.90" fill="#fff" stroke="#3a3a3a" stroke-width="1"/>
<rect x="327.15" y="306.80" width="3.90" height="104.80" fill="#d4d4d4" stroke="#505050" stroke-width="0.9"/>
<rect x="331.05" y="291.50" width="4.80" height="120.10" fill="#000" stroke="none" stroke-width="1"/>
<line x1="324.85" y1="316.70" x2="324.85" y2="321.60" stroke="#222" stroke-width="1"/>
<line x1="323.25" y1="316.70" x2="326.45" y2="316.70" stroke="#222" stroke-width="1.1"/>
<line x1="323.25" y1="321.60" x2="326.45" y2="321.60" stroke="#222" stroke-width="1.1"/>
<line x1="329.10" y1="300.60" x2="329.10" y2="311.80" stroke="#222" stroke-width="1"/>
<line x1="327.50" y1="300.60" x2="330.70" y2="300.60" stroke="#222" stroke-width="1.1"/>
<line x1="327.50" y1="311.80" x2="330.70" y2="311.80" stroke="#222" stroke-width="1.1"/>
<line x1="333.45" y1="271.70" x2="333.45" y2="292.00" stroke="#111" stroke-width="1"/>
<line x1="333.45" y1="292.00" x2="333.45" y2="312.00" stroke="#8a8a8a" stroke-width="1"/>
<line x1="331.85" y1="271.70" x2="335.05" y2="271.70" stroke="#111" stroke-width="1.1"/>
<rect x="341.48" y="313.00" width="4.60" height="98.60" fill="#fff" stroke="#3a3a3a" stroke-width="1"/>
<rect x="346.08" y="307.30" width="3.90" height="104.30" fill="#d4d4d4" stroke="#505050" stroke-width="0.9"/>
<rect x="349.98" y="297.70" width="4.80" height="113.90" fill="#000" stroke="none" stroke-width="1"/>
<line x1="343.78" y1="302.60" x2="343.78" y2="323.60" stroke="#222" stroke-width="1"/>
<line x1="342.18" y1="302.60" x2="345.38" y2="302.60" stroke="#222" stroke-width="1.1"/>
<line x1="342.18" y1="323.60" x2="345.38" y2="323.60" stroke="#222" stroke-width="1.1"/>
<line x1="348.03" y1="294.00" x2="348.03" y2="322.90" stroke="#222" stroke-width="1"/>
<line x1="346.43" y1="294.00" x2="349.63" y2="294.00" stroke="#222" stroke-width="1.1"/>
<line x1="346.43" y1="322.90" x2="349.63" y2="322.90" stroke="#222" stroke-width="1.1"/>
<line x1="352.38" y1="284.00" x2="352.38" y2="298.20" stroke="#111" stroke-width="1"/>
<line x1="352.38" y1="298.20" x2="352.38" y2="312.00" stroke="#8a8a8a" stroke-width="1"/>
<line x1="350.78" y1="284.00" x2="353.98" y2="284.00" stroke="#111" stroke-width="1.1"/>
<rect x="360.41" y="327.00" width="4.60" height="84.60" fill="#fff" stroke="#3a3a3a" stroke-width="1"/>
<rect x="365.01" y="329.00" width="3.90" height="82.60" fill="#d4d4d4" stroke="#505050" stroke-width="0.9"/>
<rect x="368.91" y="312.50" width="4.80" height="99.10" fill="#000" stroke="none" stroke-width="1"/>
<line x1="362.71" y1="321.60" x2="362.71" y2="332.80" stroke="#222" stroke-width="1"/>
<line x1="361.11" y1="321.60" x2="364.31" y2="321.60" stroke="#222" stroke-width="1.1"/>
<line x1="361.11" y1="332.80" x2="364.31" y2="332.80" stroke="#222" stroke-width="1.1"/>
<line x1="366.96" y1="310.00" x2="366.96" y2="344.40" stroke="#222" stroke-width="1"/>
<line x1="365.36" y1="310.00" x2="368.56" y2="310.00" stroke="#222" stroke-width="1.1"/>
<line x1="365.36" y1="344.40" x2="368.56" y2="344.40" stroke="#222" stroke-width="1.1"/>
<line x1="371.31" y1="310.00" x2="371.31" y2="313.00" stroke="#111" stroke-width="1"/>
<line x1="371.31" y1="313.00" x2="371.31" y2="316.00" stroke="#8a8a8a" stroke-width="1"/>
<line x1="369.71" y1="310.00" x2="372.91" y2="310.00" stroke="#111" stroke-width="1.1"/>
<rect x="379.34" y="293.20" width="4.60" height="118.40" fill="#fff" stroke="#3a3a3a" stroke-width="1"/>
<rect x="383.94" y="298.20" width="3.90" height="113.40" fill="#d4d4d4" stroke="#505050" stroke-width="0.9"/>
<rect x="387.84" y="315.70" width="4.80" height="95.90" fill="#000" stroke="none" stroke-width="1"/>
<line x1="381.64" y1="287.50" x2="381.64" y2="298.90" stroke="#222" stroke-width="1"/>
<line x1="380.04" y1="287.50" x2="383.24" y2="287.50" stroke="#222" stroke-width="1.1"/>
<line x1="380.04" y1="298.90" x2="383.24" y2="298.90" stroke="#222" stroke-width="1.1"/>
<line x1="385.89" y1="294.00" x2="385.89" y2="302.00" stroke="#222" stroke-width="1"/>
<line x1="384.29" y1="294.00" x2="387.49" y2="294.00" stroke="#222" stroke-width="1.1"/>
<line x1="384.29" y1="302.00" x2="387.49" y2="302.00" stroke="#222" stroke-width="1.1"/>
<line x1="390.24" y1="285.80" x2="390.24" y2="316.20" stroke="#111" stroke-width="1"/>
<line x1="390.24" y1="316.20" x2="390.24" y2="346.00" stroke="#8a8a8a" stroke-width="1"/>
<line x1="388.64" y1="285.80" x2="391.84" y2="285.80" stroke="#111" stroke-width="1.1"/>
<text x="91.80" y="405.50" font-size="9.2" text-anchor="middle" font-weight="normal" fill="#111" letter-spacing="1.2">**</text>
<text x="111.00" y="389.00" font-size="9.2" text-anchor="middle" font-weight="normal" fill="#111" letter-spacing="1.2">**</text>
<text x="130.30" y="389.00" font-size="9.2" text-anchor="middle" font-weight="normal" fill="#111" letter-spacing="1.2">**</text>
<text x="170.00" y="402.00" font-size="9.2" text-anchor="middle" font-weight="normal" fill="#111" letter-spacing="1.2">**</text>
<text x="188.80" y="376.50" font-size="9.2" text-anchor="middle" font-weight="normal" fill="#111" letter-spacing="1.2">**</text>
<text x="207.80" y="369.20" font-size="9.2" text-anchor="middle" font-weight="normal" fill="#111" letter-spacing="1.2">**</text>
<text x="54.60" y="416.20" font-size="9.3" text-anchor="end" font-weight="normal" fill="#222" transform="rotate(-90 54.6 416.2)">Control</text>
<text x="238.16" y="416.20" font-size="9.3" text-anchor="end" font-weight="normal" fill="#222" transform="rotate(-90 238.16 416.2)">Control</text>
<text x="74.01" y="416.20" font-size="9.3" text-anchor="end" font-weight="normal" fill="#222" transform="rotate(-90 74.01 416.2)">shSUZ12-A</text>
<text x="257.09" y="416.20" font-size="9.3" text-anchor="end" font-weight="normal" fill="#222" transform="rotate(-90 257.09000000000003 416.2)">shSUZ12-A</text>
<text x="93.42" y="416.20" font-size="9.3" text-anchor="end" font-weight="normal" fill="#222" transform="rotate(-90 93.42 416.2)">shSUZ12-B</text>
<text x="276.02" y="416.20" font-size="9.3" text-anchor="end" font-weight="normal" fill="#222" transform="rotate(-90 276.02 416.2)">shSUZ12-B</text>
<text x="112.83" y="416.20" font-size="9.3" text-anchor="end" font-weight="normal" fill="#222" transform="rotate(-90 112.83000000000001 416.2)">shSUZ12-C</text>
<text x="294.95" y="416.20" font-size="9.3" text-anchor="end" font-weight="normal" fill="#222" transform="rotate(-90 294.95 416.2)">shSUZ12-C</text>
<text x="132.24" y="416.20" font-size="9.3" text-anchor="end" font-weight="normal" fill="#222" transform="rotate(-90 132.24 416.2)">shSUZ12-D</text>
<text x="313.88" y="416.20" font-size="9.3" text-anchor="end" font-weight="normal" fill="#222" transform="rotate(-90 313.88 416.2)">shSUZ12-D</text>
<text x="151.65" y="416.20" font-size="9.3" text-anchor="end" font-weight="normal" fill="#222" transform="rotate(-90 151.65 416.2)">shEED-A</text>
<text x="332.81" y="416.20" font-size="9.3" text-anchor="end" font-weight="normal" fill="#222" transform="rotate(-90 332.81 416.2)">shEED-A</text>
<text x="171.06" y="416.20" font-size="9.3" text-anchor="end" font-weight="normal" fill="#222" transform="rotate(-90 171.06 416.2)">shEED-B</text>
<text x="351.74" y="416.20" font-size="9.3" text-anchor="end" font-weight="normal" fill="#222" transform="rotate(-90 351.74 416.2)">shEED-B</text>
<text x="190.47" y="416.20" font-size="9.3" text-anchor="end" font-weight="normal" fill="#222" transform="rotate(-90 190.47 416.2)">shEED-C</text>
<text x="370.67" y="416.20" font-size="9.3" text-anchor="end" font-weight="normal" fill="#222" transform="rotate(-90 370.67 416.2)">shEED-C</text>
<text x="209.88" y="416.20" font-size="9.3" text-anchor="end" font-weight="normal" fill="#222" transform="rotate(-90 209.88 416.2)">shEED-D</text>
<text x="389.60" y="416.20" font-size="9.3" text-anchor="end" font-weight="normal" fill="#222" transform="rotate(-90 389.59999999999997 416.2)">shEED-D</text>
<rect x="429.90" y="256.20" width="3.60" height="3.60" fill="#fff" stroke="#222" stroke-width="1"/>
<text x="438.60" y="261.30" font-size="9.3" text-anchor="start" font-weight="normal" fill="#333">1st replating</text>
<rect x="429.90" y="268.00" width="3.60" height="3.60" fill="#c8c8c8" stroke="#222" stroke-width="1"/>
<text x="438.60" y="273.10" font-size="9.3" text-anchor="start" font-weight="normal" fill="#333">2nd replating</text>
<rect x="429.90" y="279.80" width="3.60" height="3.60" fill="#000" stroke="#222" stroke-width="1"/>
<text x="438.60" y="284.90" font-size="9.3" text-anchor="start" font-weight="normal" fill="#333">3rd replating</text>
<text x="319.20" y="108.90" font-size="14.3" text-anchor="start" font-weight="bold" fill="#000">B</text>
<text x="354.90" y="128.40" font-size="9.1" text-anchor="start" font-weight="normal" fill="#222" transform="rotate(-90 354.9 128.4)">Control</text>
<text x="369.80" y="128.40" font-size="9.1" text-anchor="start" font-weight="normal" fill="#222" transform="rotate(-90 369.79999999999995 128.4)">shSUZ12-A</text>
<text x="384.70" y="128.40" font-size="9.1" text-anchor="start" font-weight="normal" fill="#222" transform="rotate(-90 384.7 128.4)">shSUZ12-B</text>
<text x="399.60" y="128.40" font-size="9.1" text-anchor="start" font-weight="normal" fill="#222" transform="rotate(-90 399.59999999999997 128.4)">shSUZ12-C</text>
<text x="414.40" y="128.40" font-size="9.1" text-anchor="start" font-weight="normal" fill="#222" transform="rotate(-90 414.4 128.4)">shSUZ12-D</text>
<text x="431.40" y="128.40" font-size="9.1" text-anchor="start" font-weight="normal" fill="#222" transform="rotate(-90 431.4 128.4)">Control</text>
<text x="446.20" y="128.40" font-size="9.1" text-anchor="start" font-weight="normal" fill="#222" transform="rotate(-90 446.2 128.4)">shEED-A</text>
<text x="460.60" y="128.40" font-size="9.1" text-anchor="start" font-weight="normal" fill="#222" transform="rotate(-90 460.59999999999997 128.4)">shEED-B</text>
<text x="475.20" y="128.40" font-size="9.1" text-anchor="start" font-weight="normal" fill="#222" transform="rotate(-90 475.2 128.4)">shEED-C</text>
<text x="490.00" y="128.40" font-size="9.1" text-anchor="start" font-weight="normal" fill="#222" transform="rotate(-90 490.0 128.4)">shEED-D</text>
<defs><filter id="blur1" x="-20%" y="-50%" width="140%" height="200%"><feGaussianBlur stdDeviation="1.6 0.7"/></filter><filter id="blur2" x="-5%" y="-100%" width="110%" height="300%"><feGaussianBlur stdDeviation="1.0 0.9"/></filter><linearGradient id="actbg" x1="0" y1="0" x2="0" y2="1"><stop offset="0" stop-color="#c2c2c2"/><stop offset="0.5" stop-color="#bababa"/><stop offset="1" stop-color="#d6d6d6"/></linearGradient></defs>
<rect x="341.50" y="133.30" width="155.30" height="14.30" fill="#fbfbfb" stroke="#6a6a6a" stroke-width="1"/>
<g filter="url(#blur1)">
<ellipse cx="352.5" cy="140.4" rx="6.5" ry="1.5" fill="#000" fill-opacity="0.55"/>
<ellipse cx="367.4" cy="140.4" rx="6.0" ry="1.5" fill="#000" fill-opacity="0.85"/>
<ellipse cx="382.3" cy="140.4" rx="5.0" ry="1.5" fill="#000" fill-opacity="0.12"/>
<ellipse cx="397.2" cy="140.4" rx="5.0" ry="1.5" fill="#000" fill-opacity="0.08"/>
<ellipse cx="412" cy="140.4" rx="4.5" ry="1.5" fill="#000" fill-opacity="0.12"/>
<ellipse cx="430" cy="139.7" rx="6.25" ry="1.5" fill="#000" fill-opacity="0.95"/>
<ellipse cx="443.3" cy="139.7" rx="5.75" ry="1.5" fill="#000" fill-opacity="0.9"/>
<ellipse cx="458.2" cy="139.7" rx="4.0" ry="1.5" fill="#000" fill-opacity="0.2"/>
<ellipse cx="472.8" cy="139.7" rx="4.0" ry="1.5" fill="#000" fill-opacity="0.3"/>
<ellipse cx="487.6" cy="139.7" rx="4.5" ry="1.5" fill="#000" fill-opacity="0.25"/>
</g>
<line x1="422.50" y1="131.00" x2="422.50" y2="150.50" stroke="#111" stroke-width="1.2"/>
<rect x="341.50" y="151.00" width="155.30" height="14.80" fill="url(#actbg)" stroke="#444" stroke-width="1"/>
<g filter="url(#blur2)">
<rect x="344" y="156.6" width="150" height="3.0" fill="#333" fill-opacity="0.7"/>
<ellipse cx="352.5" cy="158.1" rx="6" ry="1.5" fill="#111" fill-opacity="0.35"/>
<ellipse cx="367.4" cy="158.1" rx="6" ry="1.5" fill="#111" fill-opacity="0.35"/>
<ellipse cx="382.3" cy="158.1" rx="6" ry="1.5" fill="#111" fill-opacity="0.35"/>
<ellipse cx="397.2" cy="158.1" rx="6" ry="1.5" fill="#111" fill-opacity="0.35"/>
<ellipse cx="412" cy="158.1" rx="6" ry="1.5" fill="#111" fill-opacity="0.35"/>
<ellipse cx="430" cy="158.1" rx="6" ry="1.5" fill="#111" fill-opacity="0.35"/>
<ellipse cx="443.3" cy="158.1" rx="6" ry="1.5" fill="#111" fill-opacity="0.35"/>
<ellipse cx="458.2" cy="158.1" rx="6" ry="1.5" fill="#111" fill-opacity="0.35"/>
<ellipse cx="472.8" cy="158.1" rx="6" ry="1.5" fill="#111" fill-opacity="0.35"/>
<ellipse cx="487.6" cy="158.1" rx="6" ry="1.5" fill="#111" fill-opacity="0.35"/>
</g>
<text x="310.00" y="144.30" font-size="9.2" text-anchor="start" font-weight="normal" fill="#222">SUZ12</text>
<text x="310.00" y="161.30" font-size="9.2" text-anchor="start" font-weight="normal" fill="#222">&#946;-actin</text>
<text x="500.50" y="144.30" font-size="9.2" text-anchor="start" font-weight="normal" fill="#222">EED</text>
<text x="0.00" y="489.00" font-size="17.5" text-anchor="start" font-weight="bold" fill="#000">D</text>
<path d="M30.5,587 C30,598 35,603.5 42,603 C45,602.5 48,600 50.6,596.6 M57.8,598.8 C62,602 69,603.5 74,602 C77,601 80,599 82.1,596.6 M90.3,598.8 C94.5,602 101.5,603.5 106.5,602 C109.5,601 112.5,599 114.6,596.6 M122.8,598.8 C127,602 134,603.5 139,602 C142,601 145,599 147.1,596.6 M155.3,598.8 C162.5,604 184.5,606 188.0,588" fill="none" stroke="#000" stroke-width="1.6"/>
<path d="M47.50,599.50 c-1.80,1.80 -1.35,4.50 -0.90,6.30 c0.45,1.80 -0.45,3.60 -1.80,4.50 c-1.35,0.90 -2.25,1.80 -2.70,2.70" fill="none" stroke="#4a4a4a" stroke-width="0.8"/>
<path d="M55.50,600.50 c-1.80,1.80 -1.35,4.50 -0.90,6.30 c0.45,1.80 -0.45,3.60 -1.80,4.50 c-1.35,0.90 -2.25,1.80 -2.70,2.70" fill="none" stroke="#4a4a4a" stroke-width="0.8"/>
<path d="M80.00,599.50 c-1.80,1.80 -1.35,4.50 -0.90,6.30 c0.45,1.80 -0.45,3.60 -1.80,4.50 c-1.35,0.90 -2.25,1.80 -2.70,2.70" fill="none" stroke="#4a4a4a" stroke-width="0.8"/>
<path d="M88.00,600.50 c-1.80,1.80 -1.35,4.50 -0.90,6.30 c0.45,1.80 -0.45,3.60 -1.80,4.50 c-1.35,0.90 -2.25,1.80 -2.70,2.70" fill="none" stroke="#4a4a4a" stroke-width="0.8"/>
<path d="M112.50,599.50 c-1.80,1.80 -1.35,4.50 -0.90,6.30 c0.45,1.80 -0.45,3.60 -1.80,4.50 c-1.35,0.90 -2.25,1.80 -2.70,2.70" fill="none" stroke="#4a4a4a" stroke-width="0.8"/>
<path d="M120.50,600.50 c-1.80,1.80 -1.35,4.50 -0.90,6.30 c0.45,1.80 -0.45,3.60 -1.80,4.50 c-1.35,0.90 -2.25,1.80 -2.70,2.70" fill="none" stroke="#4a4a4a" stroke-width="0.8"/>
<path d="M145.00,599.50 c-1.80,1.80 -1.35,4.50 -0.90,6.30 c0.45,1.80 -0.45,3.60 -1.80,4.50 c-1.35,0.90 -2.25,1.80 -2.70,2.70" fill="none" stroke="#4a4a4a" stroke-width="0.8"/>
<path d="M153.00,600.50 c-1.80,1.80 -1.35,4.50 -0.90,6.30 c0.45,1.80 -0.45,3.60 -1.80,4.50 c-1.35,0.90 -2.25,1.80 -2.70,2.70" fill="none" stroke="#4a4a4a" stroke-width="0.8"/>
<g transform="translate(49,581.5) rotate(16)"><path d="M0,-14.2 H17.5 A3.9 14.2 0 0 1 17.5,14.2 H0 Z" fill="#a3a3a3" stroke="#4a4a4a" stroke-width="0.8"/><ellipse cx="0" cy="0" rx="3.9" ry="14.2" fill="#a9a9a9" stroke="#4a4a4a" stroke-width="0.8"/><path d="M5.8,14.5 A3.9 14.2 0 0 0 5.8,-14.5" fill="none" stroke="#000" stroke-width="1.6"/><path d="M13.4,14.5 A3.9 14.2 0 0 0 13.4,-14.5" fill="none" stroke="#000" stroke-width="1.6"/></g>
<path d="M58.63,569.70 c2.10,-2.10 1.58,-5.25 1.05,-7.35 c-0.53,-2.10 0.53,-4.20 2.10,-5.25 c1.58,-1.05 2.62,-2.10 3.15,-3.15" fill="none" stroke="#4a4a4a" stroke-width="0.8"/>
<path d="M65.84,571.76 c2.00,-2.00 1.50,-5.00 1.00,-7.00 c-0.50,-2.00 0.50,-4.00 2.00,-5.00 c1.50,-1.00 2.50,-2.00 3.00,-3.00" fill="none" stroke="#4a4a4a" stroke-width="0.8"/>
<g transform="translate(81.5,581.5) rotate(16)"><path d="M0,-14.2 H17.5 A3.9 14.2 0 0 1 17.5,14.2 H0 Z" fill="#a3a3a3" stroke="#4a4a4a" stroke-width="0.8"/><ellipse cx="0" cy="0" rx="3.9" ry="14.2" fill="#a9a9a9" stroke="#4a4a4a" stroke-width="0.8"/><path d="M5.8,14.5 A3.9 14.2 0 0 0 5.8,-14.5" fill="none" stroke="#000" stroke-width="1.6"/><path d="M13.4,14.5 A3.9 14.2 0 0 0 13.4,-14.5" fill="none" stroke="#000" stroke-width="1.6"/></g>
<path d="M91.13,569.70 c2.10,-2.10 1.58,-5.25 1.05,-7.35 c-0.53,-2.10 0.53,-4.20 2.10,-5.25 c1.58,-1.05 2.62,-2.10 3.15,-3.15" fill="none" stroke="#4a4a4a" stroke-width="0.8"/>
<path d="M98.34,571.76 c2.00,-2.00 1.50,-5.00 1.00,-7.00 c-0.50,-2.00 0.50,-4.00 2.00,-5.00 c1.50,-1.00 2.50,-2.00 3.00,-3.00" fill="none" stroke="#4a4a4a" stroke-width="0.8"/>
<g transform="translate(114,581.5) rotate(16)"><path d="M0,-14.2 H17.5 A3.9 14.2 0 0 1 17.5,14.2 H0 Z" fill="#a3a3a3" stroke="#4a4a4a" stroke-width="0.8"/><ellipse cx="0" cy="0" rx="3.9" ry="14.2" fill="#a9a9a9" stroke="#4a4a4a" stroke-width="0.8"/><path d="M5.8,14.5 A3.9 14.2 0 0 0 5.8,-14.5" fill="none" stroke="#000" stroke-width="1.6"/><path d="M13.4,14.5 A3.9 14.2 0 0 0 13.4,-14.5" fill="none" stroke="#000" stroke-width="1.6"/></g>
<path d="M123.63,569.70 c2.10,-2.10 1.58,-5.25 1.05,-7.35 c-0.53,-2.10 0.53,-4.20 2.10,-5.25 c1.58,-1.05 2.62,-2.10 3.15,-3.15" fill="none" stroke="#4a4a4a" stroke-width="0.8"/>
<path d="M130.84,571.76 c2.00,-2.00 1.50,-5.00 1.00,-7.00 c-0.50,-2.00 0.50,-4.00 2.00,-5.00 c1.50,-1.00 2.50,-2.00 3.00,-3.00" fill="none" stroke="#4a4a4a" stroke-width="0.8"/>
<g transform="translate(146.5,581.5) rotate(16)"><path d="M0,-14.2 H17.5 A3.9 14.2 0 0 1 17.5,14.2 H0 Z" fill="#a3a3a3" stroke="#4a4a4a" stroke-width="0.8"/><ellipse cx="0" cy="0" rx="3.9" ry="14.2" fill="#a9a9a9" stroke="#4a4a4a" stroke-width="0.8"/><path d="M5.8,14.5 A3.9 14.2 0 0 0 5.8,-14.5" fill="none" stroke="#000" stroke-width="1.6"/><path d="M13.4,14.5 A3.9 14.2 0 0 0 13.4,-14.5" fill="none" stroke="#000" stroke-width="1.6"/></g>
<path d="M156.13,569.70 c2.10,-2.10 1.58,-5.25 1.05,-7.35 c-0.53,-2.10 0.53,-4.20 2.10,-5.25 c1.58,-1.05 2.62,-2.10 3.15,-3.15" fill="none" stroke="#4a4a4a" stroke-width="0.8"/>
<path d="M163.34,571.76 c2.00,-2.00 1.50,-5.00 1.00,-7.00 c-0.50,-2.00 0.50,-4.00 2.00,-5.00 c1.50,-1.00 2.50,-2.00 3.00,-3.00" fill="none" stroke="#4a4a4a" stroke-width="0.8"/>
<ellipse cx="55.2" cy="557" rx="6.1" ry="4.7" fill="#e4e4e4" stroke="#707070" stroke-width="0.8"/>
<text x="55.20" y="559.30" font-size="6.4" text-anchor="middle" font-weight="normal" fill="#444">Ac</text>
<ellipse cx="60.8" cy="610.4" rx="6.1" ry="4.7" fill="#e4e4e4" stroke="#707070" stroke-width="0.8"/>
<text x="60.80" y="612.70" font-size="6.4" text-anchor="middle" font-weight="normal" fill="#444">Ac</text>
<ellipse cx="87.7" cy="557" rx="6.1" ry="4.7" fill="#e4e4e4" stroke="#707070" stroke-width="0.8"/>
<text x="87.70" y="559.30" font-size="6.4" text-anchor="middle" font-weight="normal" fill="#444">Ac</text>
<ellipse cx="93.3" cy="610.4" rx="6.1" ry="4.7" fill="#e4e4e4" stroke="#707070" stroke-width="0.8"/>
<text x="93.30" y="612.70" font-size="6.4" text-anchor="middle" font-weight="normal" fill="#444">Ac</text>
<ellipse cx="120.2" cy="557" rx="6.1" ry="4.7" fill="#e4e4e4" stroke="#707070" stroke-width="0.8"/>
<text x="120.20" y="559.30" font-size="6.4" text-anchor="middle" font-weight="normal" fill="#444">Ac</text>
<ellipse cx="125.8" cy="610.4" rx="6.1" ry="4.7" fill="#e4e4e4" stroke="#707070" stroke-width="0.8"/>
<text x="125.80" y="612.70" font-size="6.4" text-anchor="middle" font-weight="normal" fill="#444">Ac</text>
<ellipse cx="152.7" cy="557" rx="6.1" ry="4.7" fill="#e4e4e4" stroke="#707070" stroke-width="0.8"/>
<text x="152.70" y="559.30" font-size="6.4" text-anchor="middle" font-weight="normal" fill="#444">Ac</text>
<ellipse cx="158.3" cy="610.4" rx="6.1" ry="4.7" fill="#e4e4e4" stroke="#707070" stroke-width="0.8"/>
<text x="158.30" y="612.70" font-size="6.4" text-anchor="middle" font-weight="normal" fill="#444">Ac</text>
<text x="13.50" y="546.80" font-size="8.8" text-anchor="start" font-weight="normal" fill="#222">nucleosome</text>
<line x1="25.00" y1="553.50" x2="51.00" y2="577.50" stroke="#444" stroke-width="0.7"/>
<text x="22.50" y="583.50" font-size="8.8" text-anchor="start" font-weight="normal" fill="#222">DNA</text>
<text x="22.00" y="618.20" font-size="9.1" text-anchor="start" font-weight="normal" fill="#222">histone</text>
<text x="22.00" y="628.40" font-size="9.1" text-anchor="start" font-weight="normal" fill="#222">tail</text>
<text x="97.20" y="629.80" font-size="10.5" text-anchor="start" font-weight="normal" fill="#222">H3K27Ac</text>
<text x="70.00" y="663.70" font-size="10.5" text-anchor="start" font-weight="normal" fill="#222">Active Domain</text>
<text x="170.50" y="532.50" font-size="10.1" text-anchor="start" font-weight="normal" fill="#222">PTEN</text>
<path d="M183,554.5 V540.5 H202" fill="none" stroke="#000" stroke-width="1.1"/>
<path d="M207,540.5 L200.5,537.3 L200.5,543.7 Z" fill="#000"/>
<text x="212.50" y="544.30" font-size="10.5" text-anchor="start" font-weight="normal" fill="#222">ON</text>
<line x1="211.50" y1="578.70" x2="238.00" y2="578.70" stroke="#000" stroke-width="1.6"/>
<path d="M244,578.7 L236.5,574.8 L236.5,582.6 Z" fill="#000"/>
<line x1="217.00" y1="589.50" x2="243.70" y2="589.50" stroke="#000" stroke-width="1.6" stroke-dasharray="3.2 1.8"/>
<path d="M211,589.5 L218.5,585.6 L218.5,593.4 Z" fill="#000"/>
<path d="M261,581 C262,590 266,597 276,600 M261,599.5 C262,608 266,613 276,614.5 C280,615 284,613 286,610.3 M270,589 V595" fill="none" stroke="#000" stroke-width="1.6"/>
<path d="M400,612.5 C408,615 417,612 418.2,602.5" fill="none" stroke="#000" stroke-width="1.6"/>
<g transform="translate(279.0,574) rotate(14)"><path d="M0,-12.8 H21 A4.4 12.8 0 0 1 21,12.8 H0 Z" fill="#a3a3a3" stroke="#4a4a4a" stroke-width="0.8"/><ellipse cx="0" cy="0" rx="4.4" ry="12.8" fill="#a9a9a9" stroke="#4a4a4a" stroke-width="0.8"/><path d="M7,13.100000000000001 A4.4 12.8 0 0 0 7,-13.100000000000001" fill="none" stroke="#000" stroke-width="1.5"/><path d="M13.5,13.100000000000001 A4.4 12.8 0 0 0 13.5,-13.100000000000001" fill="none" stroke="#000" stroke-width="1.5"/><path d="M20,13.100000000000001 A4.4 12.8 0 0 0 20,-13.100000000000001" fill="none" stroke="#000" stroke-width="1.5"/></g>
<path d="M288.89,563.27 c1.90,-1.90 1.42,-4.75 0.95,-6.65 c-0.47,-1.90 0.47,-3.80 1.90,-4.75 c1.42,-0.95 2.38,-1.90 2.85,-2.85" fill="none" stroke="#333" stroke-width="0.95"/>
<path d="M295.20,564.85 c2.00,-2.00 1.50,-5.00 1.00,-7.00 c-0.50,-2.00 0.50,-4.00 2.00,-5.00 c1.50,-1.00 2.50,-2.00 3.00,-3.00" fill="none" stroke="#333" stroke-width="0.95"/>
<path d="M301.50,566.42 c1.80,-1.80 1.35,-4.50 0.90,-6.30 c-0.45,-1.80 0.45,-3.60 1.80,-4.50 c1.35,-0.90 2.25,-1.80 2.70,-2.70" fill="none" stroke="#333" stroke-width="0.95"/>
<g transform="translate(312.2,574) rotate(14)"><path d="M0,-12.8 H21 A4.4 12.8 0 0 1 21,12.8 H0 Z" fill="#a3a3a3" stroke="#4a4a4a" stroke-width="0.8"/><ellipse cx="0" cy="0" rx="4.4" ry="12.8" fill="#a9a9a9" stroke="#4a4a4a" stroke-width="0.8"/><path d="M7,13.100000000000001 A4.4 12.8 0 0 0 7,-13.100000000000001" fill="none" stroke="#000" stroke-width="1.5"/><path d="M13.5,13.100000000000001 A4.4 12.8 0 0 0 13.5,-13.100000000000001" fill="none" stroke="#000" stroke-width="1.5"/><path d="M20,13.100000000000001 A4.4 12.8 0 0 0 20,-13.100000000000001" fill="none" stroke="#000" stroke-width="1.5"/></g>
<path d="M322.09,563.27 c1.90,-1.90 1.42,-4.75 0.95,-6.65 c-0.47,-1.90 0.47,-3.80 1.90,-4.75 c1.42,-0.95 2.38,-1.90 2.85,-2.85" fill="none" stroke="#333" stroke-width="0.95"/>
<path d="M328.40,564.85 c2.00,-2.00 1.50,-5.00 1.00,-7.00 c-0.50,-2.00 0.50,-4.00 2.00,-5.00 c1.50,-1.00 2.50,-2.00 3.00,-3.00" fill="none" stroke="#333" stroke-width="0.95"/>
<path d="M334.70,566.42 c1.80,-1.80 1.35,-4.50 0.90,-6.30 c-0.45,-1.80 0.45,-3.60 1.80,-4.50 c1.35,-0.90 2.25,-1.80 2.70,-2.70" fill="none" stroke="#333" stroke-width="0.95"/>
<g transform="translate(345.4,574) rotate(14)"><path d="M0,-12.8 H21 A4.4 12.8 0 0 1 21,12.8 H0 Z" fill="#a3a3a3" stroke="#4a4a4a" stroke-width="0.8"/><ellipse cx="0" cy="0" rx="4.4" ry="12.8" fill="#a9a9a9" stroke="#4a4a4a" stroke-width="0.8"/><path d="M7,13.100000000000001 A4.4 12.8 0 0 0 7,-13.100000000000001" fill="none" stroke="#000" stroke-width="1.5"/><path d="M13.5,13.100000000000001 A4.4 12.8 0 0 0 13.5,-13.100000000000001" fill="none" stroke="#000" stroke-width="1.5"/><path d="M20,13.100000000000001 A4.4 12.8 0 0 0 20,-13.100000000000001" fill="none" stroke="#000" stroke-width="1.5"/></g>
<path d="M355.29,563.27 c1.90,-1.90 1.42,-4.75 0.95,-6.65 c-0.47,-1.90 0.47,-3.80 1.90,-4.75 c1.42,-0.95 2.38,-1.90 2.85,-2.85" fill="none" stroke="#333" stroke-width="0.95"/>
<path d="M361.60,564.85 c2.00,-2.00 1.50,-5.00 1.00,-7.00 c-0.50,-2.00 0.50,-4.00 2.00,-5.00 c1.50,-1.00 2.50,-2.00 3.00,-3.00" fill="none" stroke="#333" stroke-width="0.95"/>
<path d="M367.90,566.42 c1.80,-1.80 1.35,-4.50 0.90,-6.30 c-0.45,-1.80 0.45,-3.60 1.80,-4.50 c1.35,-0.90 2.25,-1.80 2.70,-2.70" fill="none" stroke="#333" stroke-width="0.95"/>
<g transform="translate(378.6,574) rotate(14)"><path d="M0,-12.8 H21 A4.4 12.8 0 0 1 21,12.8 H0 Z" fill="#a3a3a3" stroke="#4a4a4a" stroke-width="0.8"/><ellipse cx="0" cy="0" rx="4.4" ry="12.8" fill="#a9a9a9" stroke="#4a4a4a" stroke-width="0.8"/><path d="M7,13.100000000000001 A4.4 12.8 0 0 0 7,-13.100000000000001" fill="none" stroke="#000" stroke-width="1.5"/><path d="M13.5,13.100000000000001 A4.4 12.8 0 0 0 13.5,-13.100000000000001" fill="none" stroke="#000" stroke-width="1.5"/><path d="M20,13.100000000000001 A4.4 12.8 0 0 0 20,-13.100000000000001" fill="none" stroke="#000" stroke-width="1.5"/></g>
<path d="M388.49,563.27 c1.90,-1.90 1.42,-4.75 0.95,-6.65 c-0.47,-1.90 0.47,-3.80 1.90,-4.75 c1.42,-0.95 2.38,-1.90 2.85,-2.85" fill="none" stroke="#333" stroke-width="0.95"/>
<path d="M394.80,564.85 c2.00,-2.00 1.50,-5.00 1.00,-7.00 c-0.50,-2.00 0.50,-4.00 2.00,-5.00 c1.50,-1.00 2.50,-2.00 3.00,-3.00" fill="none" stroke="#333" stroke-width="0.95"/>
<path d="M401.10,566.42 c1.80,-1.80 1.35,-4.50 0.90,-6.30 c-0.45,-1.80 0.45,-3.60 1.80,-4.50 c1.35,-0.90 2.25,-1.80 2.70,-2.70" fill="none" stroke="#333" stroke-width="0.95"/>
<path d="M291.5,608.5 C297.5,613 306.5,613 312.5,606 M324.7,608.5 C330.7,613 339.7,613 345.7,606 M357.9,608.5 C363.9,613 372.9,613 378.9,606 " fill="none" stroke="#000" stroke-width="1.5"/>
<path d="M282.50,609.00 c-1.80,1.80 -1.35,4.50 -0.90,6.30 c0.45,1.80 -0.45,3.60 -1.80,4.50 c-1.35,0.90 -2.25,1.80 -2.70,2.70" fill="none" stroke="#333" stroke-width="0.95"/>
<path d="M291.50,611.00 c-1.80,1.80 -1.35,4.50 -0.90,6.30 c0.45,1.80 -0.45,3.60 -1.80,4.50 c-1.35,0.90 -2.25,1.80 -2.70,2.70" fill="none" stroke="#333" stroke-width="0.95"/>
<g transform="translate(279.5,594) rotate(14)"><path d="M0,-14.6 H24 A5.2 14.6 0 0 1 24,14.6 H0 Z" fill="#a3a3a3" stroke="#4a4a4a" stroke-width="0.8"/><ellipse cx="0" cy="0" rx="5.2" ry="14.6" fill="#a9a9a9" stroke="#4a4a4a" stroke-width="0.8"/><path d="M7.5,14.9 A5.2 14.6 0 0 0 7.5,-14.9" fill="none" stroke="#000" stroke-width="1.6"/><path d="M14.5,14.9 A5.2 14.6 0 0 0 14.5,-14.9" fill="none" stroke="#000" stroke-width="1.6"/><path d="M21.5,14.9 A5.2 14.6 0 0 0 21.5,-14.9" fill="none" stroke="#000" stroke-width="1.6"/></g>
<path d="M315.70,609.00 c-1.80,1.80 -1.35,4.50 -0.90,6.30 c0.45,1.80 -0.45,3.60 -1.80,4.50 c-1.35,0.90 -2.25,1.80 -2.70,2.70" fill="none" stroke="#333" stroke-width="0.95"/>
<path d="M324.70,611.00 c-1.80,1.80 -1.35,4.50 -0.90,6.30 c0.45,1.80 -0.45,3.60 -1.80,4.50 c-1.35,0.90 -2.25,1.80 -2.70,2.70" fill="none" stroke="#333" stroke-width="0.95"/>
<g transform="translate(312.7,594) rotate(14)"><path d="M0,-14.6 H24 A5.2 14.6 0 0 1 24,14.6 H0 Z" fill="#a3a3a3" stroke="#4a4a4a" stroke-width="0.8"/><ellipse cx="0" cy="0" rx="5.2" ry="14.6" fill="#a9a9a9" stroke="#4a4a4a" stroke-width="0.8"/><path d="M7.5,14.9 A5.2 14.6 0 0 0 7.5,-14.9" fill="none" stroke="#000" stroke-width="1.6"/><path d="M14.5,14.9 A5.2 14.6 0 0 0 14.5,-14.9" fill="none" stroke="#000" stroke-width="1.6"/><path d="M21.5,14.9 A5.2 14.6 0 0 0 21.5,-14.9" fill="none" stroke="#000" stroke-width="1.6"/></g>
<path d="M348.90,609.00 c-1.80,1.80 -1.35,4.50 -0.90,6.30 c0.45,1.80 -0.45,3.60 -1.80,4.50 c-1.35,0.90 -2.25,1.80 -2.70,2.70" fill="none" stroke="#333" stroke-width="0.95"/>
<path d="M357.90,611.00 c-1.80,1.80 -1.35,4.50 -0.90,6.30 c0.45,1.80 -0.45,3.60 -1.80,4.50 c-1.35,0.90 -2.25,1.80 -2.70,2.70" fill="none" stroke="#333" stroke-width="0.95"/>
<g transform="translate(345.9,594) rotate(14)"><path d="M0,-14.6 H24 A5.2 14.6 0 0 1 24,14.6 H0 Z" fill="#a3a3a3" stroke="#4a4a4a" stroke-width="0.8"/><ellipse cx="0" cy="0" rx="5.2" ry="14.6" fill="#a9a9a9" stroke="#4a4a4a" stroke-width="0.8"/><path d="M7.5,14.9 A5.2 14.6 0 0 0 7.5,-14.9" fill="none" stroke="#000" stroke-width="1.6"/><path d="M14.5,14.9 A5.2 14.6 0 0 0 14.5,-14.9" fill="none" stroke="#000" stroke-width="1.6"/><path d="M21.5,14.9 A5.2 14.6 0 0 0 21.5,-14.9" fill="none" stroke="#000" stroke-width="1.6"/></g>
<path d="M382.10,609.00 c-1.80,1.80 -1.35,4.50 -0.90,6.30 c0.45,1.80 -0.45,3.60 -1.80,4.50 c-1.35,0.90 -2.25,1.80 -2.70,2.70" fill="none" stroke="#333" stroke-width="0.95"/>
<path d="M391.10,611.00 c-1.80,1.80 -1.35,4.50 -0.90,6.30 c0.45,1.80 -0.45,3.60 -1.80,4.50 c-1.35,0.90 -2.25,1.80 -2.70,2.70" fill="none" stroke="#333" stroke-width="0.95"/>
<g transform="translate(379.1,594) rotate(14)"><path d="M0,-14.6 H24 A5.2 14.6 0 0 1 24,14.6 H0 Z" fill="#a3a3a3" stroke="#4a4a4a" stroke-width="0.8"/><ellipse cx="0" cy="0" rx="5.2" ry="14.6" fill="#a9a9a9" stroke="#4a4a4a" stroke-width="0.8"/><path d="M7.5,14.9 A5.2 14.6 0 0 0 7.5,-14.9" fill="none" stroke="#000" stroke-width="1.6"/><path d="M14.5,14.9 A5.2 14.6 0 0 0 14.5,-14.9" fill="none" stroke="#000" stroke-width="1.6"/><path d="M21.5,14.9 A5.2 14.6 0 0 0 21.5,-14.9" fill="none" stroke="#000" stroke-width="1.6"/></g>
<ellipse cx="286.7" cy="552.2" rx="7.4" ry="5.4" fill="#e4e4e4" stroke="#707070" stroke-width="0.8"/>
<text x="286.70" y="554.72" font-size="7" text-anchor="middle" font-weight="normal" fill="#444">Me</text>
<ellipse cx="286.7" cy="570.7" rx="7.2" ry="5.4" fill="#e4e4e4" stroke="#707070" stroke-width="0.8"/>
<text x="286.70" y="573.22" font-size="7" text-anchor="middle" font-weight="normal" fill="#444">Me</text>
<ellipse cx="319.9" cy="552.2" rx="7.4" ry="5.4" fill="#e4e4e4" stroke="#707070" stroke-width="0.8"/>
<text x="319.90" y="554.72" font-size="7" text-anchor="middle" font-weight="normal" fill="#444">Me</text>
<ellipse cx="319.9" cy="570.7" rx="7.2" ry="5.4" fill="#e4e4e4" stroke="#707070" stroke-width="0.8"/>
<text x="319.90" y="573.22" font-size="7" text-anchor="middle" font-weight="normal" fill="#444">Me</text>
<ellipse cx="353.09999999999997" cy="552.2" rx="7.4" ry="5.4" fill="#e4e4e4" stroke="#707070" stroke-width="0.8"/>
<text x="353.10" y="554.72" font-size="7" text-anchor="middle" font-weight="normal" fill="#444">Me</text>
<ellipse cx="353.09999999999997" cy="570.7" rx="7.2" ry="5.4" fill="#e4e4e4" stroke="#707070" stroke-width="0.8"/>
<text x="353.10" y="573.22" font-size="7" text-anchor="middle" font-weight="normal" fill="#444">Me</text>
<ellipse cx="301.5" cy="610.3" rx="7.2" ry="5.4" fill="#e4e4e4" stroke="#707070" stroke-width="0.8"/>
<text x="301.50" y="612.82" font-size="7" text-anchor="middle" font-weight="normal" fill="#444">Me</text>
<ellipse cx="293.0" cy="620" rx="7.2" ry="5.4" fill="#e4e4e4" stroke="#707070" stroke-width="0.8"/>
<text x="293.00" y="622.52" font-size="7" text-anchor="middle" font-weight="normal" fill="#444">Me</text>
<ellipse cx="334.7" cy="610.3" rx="7.2" ry="5.4" fill="#e4e4e4" stroke="#707070" stroke-width="0.8"/>
<text x="334.70" y="612.82" font-size="7" text-anchor="middle" font-weight="normal" fill="#444">Me</text>
<ellipse cx="326.2" cy="620" rx="7.2" ry="5.4" fill="#e4e4e4" stroke="#707070" stroke-width="0.8"/>
<text x="326.20" y="622.52" font-size="7" text-anchor="middle" font-weight="normal" fill="#444">Me</text>
<ellipse cx="367.9" cy="610.3" rx="7.2" ry="5.4" fill="#e4e4e4" stroke="#707070" stroke-width="0.8"/>
<text x="367.90" y="612.82" font-size="7" text-anchor="middle" font-weight="normal" fill="#444">Me</text>
<ellipse cx="359.4" cy="620" rx="7.2" ry="5.4" fill="#e4e4e4" stroke="#707070" stroke-width="0.8"/>
<text x="359.40" y="622.52" font-size="7" text-anchor="middle" font-weight="normal" fill="#444">Me</text>
<ellipse cx="262" cy="540.5" rx="6.1" ry="4.7" fill="#e4e4e4" stroke="#707070" stroke-width="0.8"/>
<text x="262.00" y="542.80" font-size="6.4" text-anchor="middle" font-weight="normal" fill="#444">Ac</text>
<ellipse cx="426.8" cy="556.6" rx="6.1" ry="4.7" fill="#e4e4e4" stroke="#707070" stroke-width="0.8"/>
<text x="426.80" y="558.90" font-size="6.4" text-anchor="middle" font-weight="normal" fill="#444">Ac</text>
<ellipse cx="435.8" cy="594.5" rx="6.1" ry="4.7" fill="#e4e4e4" stroke="#707070" stroke-width="0.8"/>
<text x="435.80" y="596.80" font-size="6.4" text-anchor="middle" font-weight="normal" fill="#444">Ac</text>
<ellipse cx="259.8" cy="634.7" rx="6.1" ry="4.7" fill="#e4e4e4" stroke="#707070" stroke-width="0.8"/>
<text x="259.80" y="637.00" font-size="6.4" text-anchor="middle" font-weight="normal" fill="#444">Ac</text>
<ellipse cx="375.2" cy="638" rx="6.1" ry="4.7" fill="#e4e4e4" stroke="#707070" stroke-width="0.8"/>
<text x="375.20" y="640.30" font-size="6.4" text-anchor="middle" font-weight="normal" fill="#444">Ac</text>
<text x="293.80" y="640.00" font-size="10.6" text-anchor="start" font-weight="normal" fill="#222">H3K27me3</text>
<text x="286.70" y="663.50" font-size="10.6" text-anchor="start" font-weight="normal" fill="#222">Repressive Domeain</text>
<rect x="230.80" y="488.80" width="56.50" height="13.50" fill="#fff" stroke="#222" stroke-width="1"/>
<text x="259.00" y="499.60" font-size="11" text-anchor="middle" font-weight="normal" fill="#222">PRC2/3/4</text>
<rect x="450.60" y="491.00" width="33.40" height="12.00" fill="#fff" stroke="#222" stroke-width="1"/>
<text x="467.30" y="501.20" font-size="11" text-anchor="middle" font-weight="normal" fill="#222">PRC1</text>
<ellipse cx="394.5" cy="506" rx="52.5" ry="28.5" fill="none" stroke="#000" stroke-width="1.8" stroke-dasharray="5 3"/>
<ellipse cx="317.3" cy="510.4" rx="26" ry="23.4" fill="none" stroke="#000" stroke-width="1.8" stroke-dasharray="5 3"/>
<path d="M303,500 C300,492 318,487 340,486.5 C365,486 386,487 386,494 C386,501 368,503 345,503 C320,503.5 306,505 303,500 Z" fill="#bdbdbd" stroke="#3a3a3a" stroke-width="0.9"/>
<text x="345.50" y="498.20" font-size="9.2" text-anchor="middle" font-weight="normal" fill="#111">Evi1</text>
<ellipse cx="355.4" cy="508.5" rx="9.4" ry="7" fill="#8c8c8c" stroke="#444" stroke-width="0.8"/>
<text x="355.40" y="510.73" font-size="6.2" text-anchor="middle" font-weight="normal" fill="#444">BMI1</text>
<ellipse cx="373.9" cy="503.2" rx="10.5" ry="7.4" fill="#aaaaaa" stroke="#444" stroke-width="0.8"/>
<text x="373.90" y="505.43" font-size="6.2" text-anchor="middle" font-weight="normal" fill="#444">RING1</text>
<ellipse cx="390.5" cy="509.6" rx="11" ry="7.4" fill="#c6c6c6" stroke="#444" stroke-width="0.8"/>
<text x="390.50" y="511.83" font-size="6.2" text-anchor="middle" font-weight="normal" fill="#444">HPH2</text>
<ellipse cx="372.7" cy="517.2" rx="11.5" ry="7.4" fill="#f2f2f2" stroke="#444" stroke-width="0.8"/>
<text x="372.70" y="519.43" font-size="6.2" text-anchor="middle" font-weight="normal" fill="#444">RING2</text>
<ellipse cx="405" cy="494.6" rx="9" ry="6.6" fill="#8a8a8a" stroke="#444" stroke-width="0.8"/>
<text x="405.00" y="496.47" font-size="5.2" text-anchor="middle" font-weight="normal" fill="#444">CBX2</text>
<ellipse cx="421.2" cy="492.3" rx="9" ry="6.6" fill="#8a8a8a" stroke="#444" stroke-width="0.8"/>
<text x="421.20" y="494.17" font-size="5.2" text-anchor="middle" font-weight="normal" fill="#444">CBX4</text>
<ellipse cx="431.6" cy="501.6" rx="9" ry="6.6" fill="#8a8a8a" stroke="#444" stroke-width="0.8"/>
<text x="431.60" y="503.47" font-size="5.2" text-anchor="middle" font-weight="normal" fill="#444">CBX6</text>
<ellipse cx="416.6" cy="506.2" rx="9" ry="6.6" fill="#8a8a8a" stroke="#444" stroke-width="0.8"/>
<text x="416.60" y="508.07" font-size="5.2" text-anchor="middle" font-weight="normal" fill="#444">CBX8</text>
<ellipse cx="431.6" cy="512" rx="9" ry="6.6" fill="#8a8a8a" stroke="#444" stroke-width="0.8"/>
<text x="431.60" y="513.87" font-size="5.2" text-anchor="middle" font-weight="normal" fill="#444">CBX7</text>
<ellipse cx="305" cy="507" rx="13" ry="7" fill="#8f8f8f" stroke="#3a3a3a" stroke-width="0.9" transform="rotate(-55 305 507)"/>
<text x="305.00" y="509.00" font-size="5.6" text-anchor="middle" font-weight="normal" fill="#333" transform="rotate(-55 305 509)">SUZ12</text>
<ellipse cx="320.4" cy="513" rx="6.5" ry="13.5" fill="#f6f6f6" stroke="#3a3a3a" stroke-width="0.9"/>
<text x="322.40" y="513.00" font-size="5.6" text-anchor="middle" font-weight="normal" fill="#333" transform="rotate(-90 322.4 513)">EZH2</text>
<ellipse cx="333.5" cy="514.2" rx="6" ry="12.5" fill="#d6d6d6" stroke="#3a3a3a" stroke-width="0.9" transform="rotate(-20 333.5 514.2)"/>
<text x="331.50" y="514.20" font-size="5.6" text-anchor="middle" font-weight="normal" fill="#333" transform="rotate(80 331.5 514.2)">EED</text>
<line x1="313.50" y1="524.60" x2="299.25" y2="538.77" stroke="#000" stroke-width="1.2"/>
<path d="M295.00,543.00 L297.00,536.50 L301.51,541.04 Z" fill="#000"/>
<line x1="322.00" y1="526.20" x2="322.00" y2="537.00" stroke="#000" stroke-width="1.2"/>
<path d="M322.00,543.00 L318.80,537.00 L325.20,537.00 Z" fill="#000"/>
<line x1="332.70" y1="526.20" x2="343.36" y2="538.47" stroke="#000" stroke-width="1.2"/>
<path d="M347.30,543.00 L340.95,540.57 L345.78,536.37 Z" fill="#000"/>
<text x="445.60" y="533.00" font-size="10.1" text-anchor="start" font-weight="normal" fill="#222">PTEN</text>
<path d="M457.7,554.6 V539.7 H476.6 M476.6,535.8 V543.8" fill="none" stroke="#111" stroke-width="1.2"/>
<text x="484.00" y="543.50" font-size="10.5" text-anchor="start" font-weight="normal" fill="#222">OFF</text>
<line x1="495.20" y1="553.80" x2="495.20" y2="569.80" stroke="#000" stroke-width="1.4"/>
<path d="M495.2,575.8 L491.8,568.8 L498.6,568.8 Z" fill="#000"/>
<line x1="495.20" y1="610.00" x2="495.20" y2="627.50" stroke="#000" stroke-width="1.4"/>
<path d="M495.2,633.5 L491.8,626.5 L498.6,626.5 Z" fill="#000"/>
<rect x="479.40" y="586.50" width="34.60" height="14.10" fill="#a0a0a0" stroke="#111" stroke-width="1"/>
<text x="483.60" y="597.60" font-size="10.3" text-anchor="start" font-weight="normal" fill="#111">AKT</text>
<path d="M508.7,599.8 V589.5 M506.3,592.3 L508.7,588.6 L511.1,592.3" fill="none" stroke="#000" stroke-width="1.2"/>
<rect x="476.60" y="641.10" width="39.40" height="14.10" fill="#a0a0a0" stroke="#111" stroke-width="1"/>
<text x="480.20" y="652.20" font-size="10.3" text-anchor="start" font-weight="normal" fill="#111" textLength="26.5" lengthAdjust="spacingAndGlyphs">mTOR</text>
<path d="M512,655 V644 M509.6,646.8 L512,643.2 L514.4,646.8" fill="none" stroke="#000" stroke-width="1.2"/>
<rect x="397.30" y="641.10" width="56.90" height="14.10" fill="#fff" stroke="#111" stroke-width="1"/>
<text x="400.20" y="652.20" font-size="10.6" text-anchor="start" font-weight="normal" fill="#111">Rapamycin</text>
<path d="M454.2,648.2 H469.9 M469.9,643.5 V652.8" fill="none" stroke="#111" stroke-width="1.2"/>
</svg></body></html>
